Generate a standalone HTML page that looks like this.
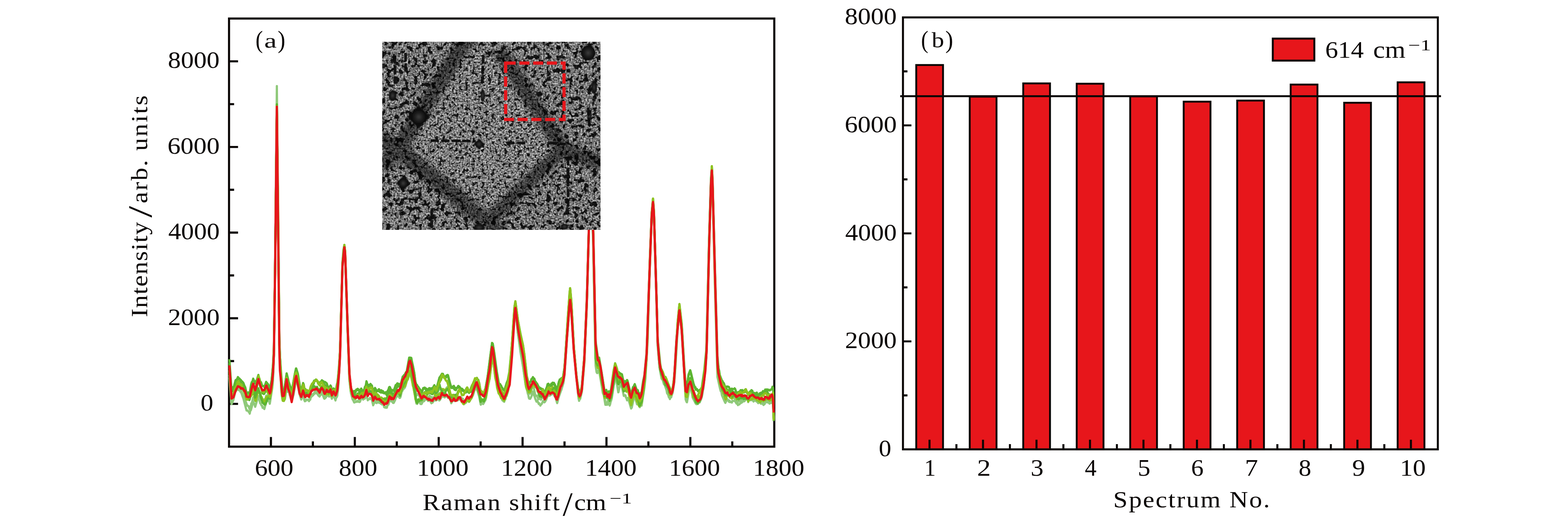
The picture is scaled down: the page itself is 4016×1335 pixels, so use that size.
<!DOCTYPE html>
<html lang="en"><head><meta charset="utf-8"><title>Raman spectra</title>
<style>html,body{margin:0;padding:0;background:#fff;}body{width:4016px;height:1335px;overflow:hidden;}svg{display:block;}text{font-family:"Liberation Serif", "DejaVu Serif", serif;fill:#0a0605;white-space:pre;}</style></head><body>
<svg width="4016" height="1335" viewBox="0 0 4016 1335">
<rect width="4016" height="1335" fill="#fff"/>
<g id="left-plot">
<rect x="586.6" y="47.5" width="1396.5" height="1097" fill="none" stroke="#0a0605" stroke-width="5.4"/>
<path d="M586.6,157.14H609.7M586.6,376.58H609.7M586.6,596.02H609.7M586.6,815.46H609.7M586.6,1034.9H609.7M586.6,266.86H599.6M586.6,486.3H599.6M586.6,705.74H599.6M586.6,925.18H599.6M693.92,1144.5V1119.8M908.76,1144.5V1119.8M1123.6,1144.5V1119.8M1338.44,1144.5V1119.8M1553.28,1144.5V1119.8M1768.12,1144.5V1119.8M801.34,1144.5V1131M1016.18,1144.5V1131M1231.02,1144.5V1131M1445.86,1144.5V1131M1660.7,1144.5V1131M1875.54,1144.5V1131" fill="none" stroke="#0a0605" stroke-width="5.4"/>
<g id="spectra">
<path d="M587.5,967.79 593,1035.58 597.5,1025.94 602.5,1004.29 606,999.54 607.5,994.98 609,993.99 610.5,999.07 611.5,999.89 613,998.24 614.5,999.46 616,1004.43 617.5,1005.1 623.5,1021.87 630,1046.62 631.5,1051.96 634,1051.68 638.5,1057.12 639.6,1060 641,1052.01 642.5,1051.37 648.5,1029.28 649.5,1032.59 651,1033.52 653.6,1042.42 660,1020.62 661.8,1014.9 666.4,1033.33 666.5,1032.67 667,1032.64 670,1039.48 671.5,1039.62 672.5,1045.01 674,1043.23 677,1048.05 680,1037.3 680.5,1037.1 682.5,1028.2 685.5,1027.49 686.5,1026.03 688.5,1025.98 691,1034.65 697.5,993.19 699.2,974.86 701.5,910.95 704.5,679.33 709.1,220.5 715.5,882.9 721.5,1011.46 724,1026.51 724.5,1026.97 727,1027.64 730,1022.11 734.2,989.87 736.5,996.34 737.7,1004.51 739,1002.25 740.5,1005.42 742,1012.5 743,1014.1 747.1,1028.74 751.5,1012.19 751.7,1012.4 755.5,989.76 756.5,978.71 758.7,972.87 764.5,995.15 767,1010.22 768.5,1011.05 771.6,1023.72 776.3,1010.73 778,1015.93 781,1028.22 782,1027.59 783.5,1025.04 784.5,1025.09 785.6,1024.37 786,1024.84 789,1024.23 791.5,1027.97 797.5,1013.94 798.5,1014.07 799,1014.96 802,1012.69 803.5,1009.5 805,1008.5 806.5,1008.74 808,1007.45 809,1007.51 810.5,1006.09 816,1014.05 817.5,1013.66 818.5,1016.14 820,1012.81 821.5,1011.94 824.2,1004.69 830,1020.93 831,1021.77 832.5,1020.52 834,1015.67 835.5,1017.19 837,1012.83 840,1014.55 841.5,1014 843,1016.25 845.5,1013.92 846.5,1008.72 849.9,1021.86 852,1017.16 853.5,1015.6 854.5,1013.11 856.5,1016.21 858,1022.23 859,1023.1 863.5,1015.51 867.5,973.55 871,909 877.1,684.64 882,636.6 884,655 890.5,851.5 895,974.01 899,1008.04 903.2,1023.91 904,1023.9 907,1031.32 907.9,1031.45 908,1030.7 911,1030.08 912.5,1028.45 914,1029.63 915.5,1027.42 918,1029.6 919.5,1029.52 921,1030.08 921.9,1029.46 925.5,1019.71 926,1020.18 927.5,1019.62 930.1,1023.84 933,1021.23 934.5,1021.34 938.3,1009.47 942,1025.77 943.5,1023.36 946.5,1022.77 947.6,1019.6 952,1023.99 952.3,1023.53 955.8,1038.53 960.5,1027.01 961.5,1027.07 963,1032.21 965,1032.95 965.5,1031.43 968.5,1030.15 969.8,1028.57 971,1032.5 972.5,1031.46 974.5,1032.96 975.5,1034.68 976.8,1034.71 978,1036.35 981,1035.89 982.5,1038.36 983.8,1043.27 985,1041.45 986.5,1044.63 988,1042.09 989.5,1044.85 990.8,1044.68 993.5,1035.05 995,1036.8 998,1024.89 999,1025.95 1000.5,1026.4 1002.5,1028.81 1005,1028.19 1006.5,1032.25 1008,1031.08 1008.5,1032.36 1012,1025.13 1014,1018.71 1016.5,1016.13 1018,1013.12 1018.9,1013.92 1019,1014.64 1022,1016.73 1023.5,1019.61 1024.5,1019.48 1026,1016.44 1029,1003.62 1030.5,1001.99 1031.5,998.39 1033,997.88 1034.5,995.35 1036,994.6 1038.5,989.23 1041.5,976.87 1044.6,972.41 1049.5,955.4 1050.4,955.4 1053.5,968 1053.9,968.38 1054,967.71 1060.5,1001.68 1066.5,1034.07 1068.5,1035.06 1069.5,1032.04 1071,1030.67 1071.5,1029.25 1074,1029.73 1077,1035.26 1078.5,1032.36 1079.6,1035.37 1084,1027.38 1085,1023.57 1086.5,1027.88 1088,1024.63 1093.5,1022.95 1096.5,1027.44 1099,1022.72 1100.5,1026.39 1101,1026.27 1105,1033.3 1106.5,1030.48 1107.7,1031.84 1112,1025.57 1112.5,1023.45 1113,1022.99 1114.5,1023.46 1116,1026.28 1117,1026.04 1117.5,1024.71 1119,1024.95 1120.5,1019.63 1121,1019.52 1123.5,1021.63 1125,1026.21 1126.5,1025.19 1132.2,1015.55 1133,1016.61 1134.5,1015.46 1137.5,1017.3 1138,1018.15 1139,1018.41 1143.5,1014.43 1144.5,1016.19 1146,1015.98 1147.5,1019.73 1149,1018.47 1150.5,1018.88 1154.5,1027.64 1155.8,1033.25 1160,1024.86 1161.5,1025.15 1162.5,1020.83 1164,1027.72 1165.5,1025.7 1167.5,1026.51 1168.5,1025.17 1170,1025.48 1171.5,1026.41 1173.5,1023.42 1175.5,1024.21 1177,1022.99 1178,1019.91 1178.5,1019.61 1182.7,1029.58 1184,1029.38 1187,1034.95 1188.6,1035.75 1189.5,1035.13 1191,1031.97 1192.5,1032.43 1193.5,1026.86 1196.7,1023.81 1199,1026.32 1200.5,1029.6 1201.4,1029.95 1204.5,1023.21 1207.2,1021.3 1210,1015.23 1214,999.95 1215.5,999.8 1218,994.72 1219.5,997.26 1221,995.14 1227.5,1017 1231,1035.97 1231.5,1036.97 1233,1032.8 1234.5,1032.13 1237.5,1035.32 1240,1031.35 1241.5,1027.05 1243,1026.22 1244.6,1020.8 1251,982.63 1252.5,978.18 1259,929.23 1260.5,916.68 1262.1,912.11 1268.5,965.8 1275,998.33 1277.3,1007.54 1278,1006.73 1279.5,1011.42 1281,1012.04 1283.5,1020.42 1285,1021.05 1286.5,1025.53 1287.9,1024 1289,1027.86 1291.4,1029.55 1293,1023.76 1294.5,1023.24 1296,1015.01 1297.5,1014.66 1301.5,1001.39 1305.5,964.65 1312,882.89 1317.5,806.01 1320,793 1326.5,854.22 1333,901.65 1339.5,939.19 1346,984.29 1347.5,992.93 1349,995.81 1352,1009.36 1353,1010.96 1354.5,1019.57 1355.5,1021.49 1357,1020.42 1358,1021.86 1361,1016.26 1364,1004.6 1365,1003.3 1367,1011.62 1368.5,1014.25 1371,1021.99 1374,1029.23 1375.5,1026.78 1377,1028.3 1380,1035.46 1381,1033.13 1384,1039.41 1385.5,1036.52 1387,1035.67 1391,1027.4 1391.5,1027.14 1394,1031.07 1395,1030.62 1398,1026.06 1404,1011.68 1404.5,1011.66 1405,1013.7 1406.5,1011.8 1408,1013.75 1411,1011.73 1415,1007.47 1416,1009.93 1417.5,1009.51 1423.5,1020.93 1427,1032.94 1431.5,1016.28 1438,997.65 1442.1,984.58 1445.6,963.74 1452,869.24 1458.5,786.35 1460.2,772.5 1463.2,797.33 1469.5,895.24 1476,963.81 1482,1021.23 1483.2,1025.98 1484.5,1022.9 1486,1022.17 1490.2,1004.2 1496.5,930.63 1503,779.88 1509.5,547.81 1513.5,486 1517.5,564.31 1519.5,631.01 1525.5,937.2 1528,953.71 1529.5,956.11 1531,954.2 1531.1,955 1532,953.8 1533.5,944.81 1540,982.06 1544,1007.17 1545,1009.38 1545.1,1008.72 1546.5,1013.24 1550.5,1037.29 1552,1035.38 1552.1,1035.75 1554.5,1034.14 1555.7,1031.96 1557,1026.11 1558.5,1029.88 1559.2,1027.89 1561.5,1038.07 1562.5,1036.49 1564,1029.02 1565,1027.13 1567,1020.39 1572,986.49 1573,984.14 1575.5,962.73 1576,963.14 1576.5,962.76 1580,983.35 1583.5,1005.31 1584,1005.07 1587.5,988.27 1588.5,986.98 1589.5,989.58 1590.5,990.33 1592,989.57 1593,991.9 1597.7,1014.49 1599,1012.14 1600,1012.75 1600.5,1013.72 1602,1012.91 1603,1018.44 1604.5,1020.55 1606,1025.84 1607.1,1019.56 1608.5,1024.41 1610,1024.72 1616.4,1046.8 1616.5,1046 1618,1044.84 1623.5,1020.12 1625,1017.96 1625.5,1018.14 1626,1020.77 1627.5,1021.37 1631.5,1035.97 1634,1035.68 1638.6,1043.31 1639.5,1040.39 1640.5,1039.36 1642.5,1038.39 1643.3,1039.29 1649.5,999.93 1653,970.99 1658.5,875.07 1665,656.56 1669.5,551.31 1672.5,521.75 1675,556.13 1681.5,775.28 1684.5,885.8 1689,940.26 1694.5,970.26 1697.5,974.15 1700.5,984.76 1701.5,984.82 1701.7,984 1707,999.28 1708.5,1007.46 1711.5,1011.95 1713,1017.74 1714.5,1019.14 1715.7,1022.71 1717,1019.14 1719.2,1017.89 1720,1014.27 1722.7,1006.85 1726.5,981.68 1729,952.11 1735.5,843.83 1740.2,799.1 1746,849.21 1752.5,958.25 1756.2,1023.98 1758.5,1029.98 1759.5,1030.8 1766,994.14 1767,988.72 1768,986.49 1771.5,1006.78 1772.5,1009.34 1774,1018.77 1780.5,1031.59 1781.9,1034.13 1782,1033.79 1783.5,1035.69 1785,1035.51 1787,1033.96 1787.8,1035.07 1790.5,1028.58 1792,1031.02 1796,1022.05 1798.5,1011.99 1800,1001.22 1801.5,996.24 1808,932.19 1810,895.93 1816.5,622.45 1821,473.49 1823.2,440.8 1825,480.1 1831.5,746.12 1837.5,965.9 1843.8,994.25 1846,1002.57 1847.5,1003.81 1849,1012.73 1855.5,1027.92 1857.5,1032.13 1857.9,1032.27 1858.5,1029.81 1860,1028.47 1863,1022.97 1863.5,1023.04 1864,1024.57 1865,1024.78 1867,1029.52 1868.5,1026.31 1870,1030.43 1873,1029.94 1874.5,1031.42 1875.5,1027.13 1877,1027.9 1878.5,1026.96 1880,1027.43 1881.5,1026.83 1883.5,1029.17 1886,1033.72 1887,1034.49 1888.5,1034.02 1890,1038.14 1891.5,1035.47 1893,1036.52 1894,1036 1895.5,1033.45 1897,1032.96 1898,1030.94 1899.5,1031.92 1904,1027.26 1905,1028.35 1906.5,1028.16 1910.5,1023.18 1912.5,1023.02 1913.5,1023.74 1914,1023.5 1915,1024.04 1916.3,1030.53 1917.5,1026.65 1921,1022.82 1923,1025.66 1924.5,1022.16 1925.5,1022.71 1930,1028.88 1931.5,1026.25 1933,1026.68 1934.5,1025.1 1937.3,1028.76 1938.5,1028.54 1942,1033.04 1944.3,1031.19 1945,1029.8 1947,1029.47 1948.5,1034.33 1950,1030.48 1951,1034.46 1954,1034.8 1955.5,1037.76 1957,1034.56 1958.5,1035.28 1960,1030.45 1962.5,1030.74 1964,1027.15 1965.5,1031.03 1967,1030.3 1968,1027.09 1969.5,1032.7 1971,1034.27 1972.5,1032.25 1973.5,1032.84 1975.5,1032.48 1977,1028.54 1978.5,1032.97 1979.8,1034.28 1981.7,1071.2" fill="none" stroke="#8fc97a" stroke-width="5.6" stroke-linejoin="round" stroke-linecap="butt"/>
<path d="M587.5,960.54 593,1033.17 597.5,1022.02 600.5,1007.88 602,1004.43 603,998.94 606,996.41 609.2,990.36 613,992.24 614.5,991.39 616,997.58 617.5,998.37 619,1005.28 620.5,1008.2 626,1020.11 627.5,1026.56 628,1025.09 631.4,1034.41 632.5,1039.41 634,1038.71 635.5,1040.77 637,1040.71 638.5,1046.74 639.6,1048.28 641,1041.99 642.5,1040.19 643.5,1033.74 645,1032.86 648.5,1017.97 649.5,1019.18 653.6,1027.68 660,1005.43 661.8,998.89 666.5,1011.83 667,1012.12 673.5,1024.79 674,1025.33 675.5,1024.3 677,1029.04 678.5,1022.1 680,1025.19 681.6,1014.15 682.5,1014.52 684,1012.98 685.5,1013 686.5,1011.11 688,1014.19 688.5,1013.93 689.5,1014.83 691,1021.83 695.7,1000.9 699.2,961.57 701.5,908.72 704.5,698.1 709.1,272.6 715.5,879.81 720.5,989.16 724,1018.38 725,1020.3 727,1019.11 730.7,1005.33 734.2,972.44 740.5,999.94 742.5,1003.69 747.1,1023.41 753,1000.63 756.4,977.12 756.5,978.64 758.7,972.68 762,985.28 762.2,984.8 768.5,1014.26 771.5,1023.36 772.5,1017.12 774,1014.72 776.3,1007.29 779.5,1025.85 781,1027.8 782,1026.43 783.5,1026.77 785,1023.89 785.5,1023.73 786,1024.63 790.5,1025.54 791.4,1024.99 793,1021.44 794.5,1024.31 796,1017.47 797.5,1016.96 799,1011.84 800.5,1011.21 802,1009.23 803.5,1010.3 807.8,999.93 813.5,1007.9 814.5,1005.06 816,1008.26 817.5,1008.22 818.5,1010.33 820,1007.98 821.5,1001.67 823,1002.35 824.5,999.4 825.5,1000.16 828.5,1012.23 831.5,1018.51 833,1019.46 834,1019.18 835.5,1015.43 837,1008.29 839,1008.38 842.9,1009.79 844,1006.48 845.5,1006.47 846.5,1004.63 850,1020.84 853,1013.06 854.5,1010.97 859.2,1026.23 860.5,1019.65 862,1017.41 863.5,1012.63 864,1012.67 866.5,989.06 871,910.27 877.1,683.72 882,636.39 884,655 890.5,850.3 895,972.59 898.6,1006.14 900,1010.26 901,1011.39 903.2,1020.99 904,1020.77 905.5,1024.34 907.9,1022.57 908,1021.74 909.5,1023.84 912.5,1018.84 914,1019 916.1,1017.83 918,1018.83 919.5,1023.58 920.5,1024.24 921,1024.16 922,1026.02 925.5,1014.83 926,1015.35 927.5,1013.09 929,1013.15 930,1010.64 930.1,1009.07 931.5,1008.03 933,1008.64 934.5,1007.34 935.5,1002.09 937,1000.56 938.3,996.65 939.5,1002.41 941.8,1007.06 942,1006.66 943.5,1007.83 945.5,1004.57 947.6,1004.57 949,1008.03 950.5,1006.51 952.3,1010.79 956,1030.64 957,1029.73 960,1023.07 960.5,1022.9 961.5,1025.28 963,1022.88 965,1024.39 965.5,1025.62 967,1021.64 968.5,1020.66 969.8,1023.36 971,1022.15 974.5,1023.23 977,1027.51 978,1027.77 981.5,1032.87 982.5,1035.85 989,1026.54 989.5,1025.66 990.8,1025.58 992,1020.04 993.5,1019.05 996.5,1014.63 997.9,1010.41 999,1013.21 1002,1014.84 1003.5,1018.12 1005,1018.93 1008,1025.66 1008.4,1025.8 1012,1014.85 1013,1013.57 1015,1013.42 1016.5,1014.93 1018,1013.42 1018.9,1014.04 1019,1014.67 1020.5,1013.22 1022,1017.1 1023.5,1015.58 1024.7,1018.19 1029,1000.13 1031,987.8 1033,985.42 1033.5,985.44 1037,980.95 1037.6,980.83 1038.5,978.43 1040,978.53 1041.5,976.15 1045.5,961.33 1048.1,945.99 1049.5,945.73 1050.5,942.01 1052,946.36 1054,949.93 1056,960.56 1057.5,962.15 1061.5,982.51 1063.5,997.94 1067,1013.55 1068.5,1010.05 1069.5,1009.58 1071,1011.01 1071.5,1010.51 1074,1014.46 1077,1023.34 1078.5,1023.72 1079.6,1028.09 1081,1023.63 1082.5,1025.69 1084,1020.91 1086.5,1024.19 1089.5,1022.38 1091,1019.59 1092,1023.32 1093.5,1018.92 1095,1019.86 1096.5,1017.19 1098,1016.46 1099,1017.05 1100.5,1013.47 1105,1021.09 1106.5,1017.48 1107.7,1023.29 1109,1019.18 1110.5,1018.37 1112,1017.96 1112.5,1015.39 1113,1014.8 1116,1019.02 1117,1017.56 1119.5,1012.44 1120.5,1008.76 1125,994.17 1126.4,996.12 1126.5,997.18 1127.5,997.8 1129,995.16 1132,998.91 1132.2,998.31 1134,998.91 1134.5,998.64 1136,1001.42 1137.5,999.56 1138,999.7 1139,998.58 1140.5,999.9 1141.5,999.33 1144,993.24 1144.5,993.3 1146,991.48 1150,998.83 1153,1012.33 1154.5,1015.22 1156,1021.48 1158.5,1019.69 1160,1021.37 1161.5,1021.32 1165.5,1026.05 1167,1026.23 1167.5,1026.85 1174,1020.7 1177,1018.69 1178,1016.7 1181.5,1018.74 1182.7,1021.79 1185.5,1021.58 1187,1026.58 1188.5,1027.4 1189,1029.24 1191,1031.5 1191.5,1031.4 1192.5,1029.67 1193.5,1031.6 1196.7,1021.84 1197.5,1022.47 1199.5,1028.56 1200.5,1029.23 1201.4,1027.97 1203,1023.86 1208.5,1018.39 1210,1012.77 1211.5,1012.92 1216.6,996.11 1218,996.48 1219.5,994.71 1224.5,1002.96 1225,1003.2 1231,1029.25 1231.5,1029.88 1233,1026.79 1234.5,1028.72 1237,1026.41 1238.5,1023.17 1240,1022.68 1244.6,1005.77 1249.5,970.43 1251,966.48 1257.5,920.32 1260.5,901.72 1262.1,899.41 1268.5,951.57 1275,993.57 1277.5,1002.53 1278,1003.02 1279.5,1010.98 1281,1012.05 1282.5,1010.79 1283.5,1017.58 1287.9,1023.88 1288,1023.14 1289,1022.63 1291.5,1026.48 1297.5,1011.39 1302,995.68 1308.5,923.72 1315,835.24 1317.5,803.78 1320,792.37 1326.5,854.22 1333,897.04 1339.5,937.98 1346,984.13 1348.5,996.2 1350.9,1001.87 1351,1001.04 1352,1001.52 1353.5,1004.3 1354.5,1007.98 1355.5,1008.68 1357,1006.71 1358,1008.33 1359.5,1005.71 1361.5,996.36 1362.5,994.58 1364,988.62 1365,988.35 1365.5,990.31 1367,992.79 1371,1012.8 1372.5,1014.59 1375,1013.55 1375.5,1013.8 1378.5,1022.89 1380,1022.78 1381,1018.83 1383.5,1021.52 1384,1021.46 1385.5,1024.31 1388.5,1018.63 1390.7,1017.29 1395,1024.37 1395.3,1025.63 1396.5,1022.68 1398,1022.32 1401.5,1012.36 1402.5,1011.66 1405,1003.04 1406.5,1002.83 1408,1005.75 1410.5,999.68 1411,999.4 1412,1000.58 1415,996.09 1416,997.87 1417.5,996.4 1420.5,1001.69 1425,1018.38 1426.9,1020.41 1432,1000.08 1435,999.84 1436,1000.29 1436.2,1001.33 1437.5,999.65 1442,983.16 1442.1,984.33 1443,981.85 1445.6,961.64 1452,868.1 1458.5,783.75 1460.2,767.79 1463.2,791.81 1469.5,892.35 1476,960.25 1481,1014.35 1483.2,1027.22 1487.5,1012.16 1490.2,1001.86 1496.5,925.68 1503,779.88 1509.5,547.81 1513.5,484.2 1515.5,509.51 1519.5,615.17 1525.5,908.48 1529.5,934.64 1531.1,937.68 1533.5,934.83 1540,977.11 1544,1000.37 1545,1002.66 1548.6,1022.08 1549,1021.93 1550.5,1028.99 1552,1031.72 1553,1037.35 1554.5,1036.48 1555.7,1036.94 1557,1026.2 1559,1026.94 1561.5,1039.19 1568,1011.61 1572.5,978.27 1575.5,959.47 1576,959.71 1576.5,958.98 1580,971.24 1582.5,983.49 1583,983.71 1584,982.91 1586.5,975.85 1587,975.95 1587.5,977.08 1589,971.78 1592,975.74 1593,975.19 1594,977.53 1598,991.79 1600.5,992.5 1602.5,991.61 1604.5,995.74 1607,994.14 1608.5,998.15 1612.5,1016.76 1616.5,1042.93 1621.5,1021.24 1625,1010.31 1625.5,1010.11 1630.4,1022.85 1631.5,1026.85 1633,1028.28 1634,1026.26 1638.5,1039.71 1638.6,1041 1639.5,1041.07 1641,1038.83 1642.5,1034.36 1643.3,1034.82 1649.5,990.49 1654,947.73 1658.5,867.24 1665,652.17 1669.5,550.22 1672.5,521.75 1675,555.91 1681.5,772.13 1684.5,883.84 1689,940.26 1693,962.17 1696,969.98 1697.5,970.22 1699,974.75 1700.5,976.03 1702,984.06 1704.5,988.65 1705.5,989.12 1706.4,992.12 1708.5,1004.2 1710,1004.86 1715.7,1018.13 1718.5,1013.58 1719.2,1014.04 1721,1007.42 1722.5,1005.85 1726.5,981.02 1729,950.5 1735.5,843.21 1740.2,796.6 1746,844.86 1752.5,950.81 1756.2,1017.5 1759.7,1026.34 1766,986.89 1767.5,977.24 1767.9,977.22 1774,1006.92 1778,1020 1779.5,1019.15 1781,1022.45 1781.9,1022.82 1782,1022.07 1783.5,1022.98 1785,1020.49 1786.5,1022.71 1787,1022.91 1790.5,1017.68 1792,1023.17 1798.3,999.86 1800,985.81 1801.5,980.64 1808,923.48 1810,888.45 1816.5,614.04 1821,467.16 1823.2,435.56 1825,473.2 1831.5,723.64 1837.5,936.28 1839.6,952.3 1840.5,954.18 1847,984.71 1848.5,988.39 1850.5,989.89 1852,994.65 1853,993.62 1853.5,992.48 1854.5,994.08 1857.5,1005.15 1857.9,1005.41 1860,1002.34 1865,1005.57 1868.5,1017.64 1869.5,1018.08 1870,1017.6 1873,1019.16 1874.5,1021.35 1875.5,1020.01 1877,1019.94 1878.5,1016.51 1880,1017.36 1881.5,1021.48 1883,1022.8 1884.5,1027.57 1885.9,1025.82 1887,1029.82 1888.5,1029.08 1890,1029.91 1891.5,1027.85 1892.5,1028.46 1895.5,1026.23 1897,1027.58 1898,1026.16 1899.5,1026.1 1904,1020.28 1905,1021.55 1906.5,1019.84 1909.5,1012.95 1910.4,1013.72 1915,1020.51 1916.5,1025.53 1917.5,1025.38 1919,1021.21 1920.5,1020.98 1923,1018.01 1925.5,1019.43 1927,1022.39 1928.5,1021.21 1932,1023.71 1934.5,1022.47 1936,1026.02 1937.3,1026.22 1938.5,1028.77 1940,1029.78 1943,1028.98 1945,1029.34 1950,1024.79 1951.5,1028.5 1955,1032.61 1956.5,1035.88 1957,1036.13 1961.5,1029.04 1962,1027.32 1965,1024.38 1967.5,1019.75 1968,1017.11 1969.5,1019.81 1971,1019.25 1973.5,1022.59 1974,1022.66 1975.5,1026.8 1978.5,1021.61 1979.8,1015.5 1980.5,1027.13 1981.7,1074.49" fill="none" stroke="#8fc97a" stroke-width="5.6" stroke-linejoin="round" stroke-linecap="butt"/>
<path d="M587.5,941.68 593,1015.91 594.5,1017.2 597.5,1010.71 602,990.53 602.5,991.47 603,991.63 609,974.82 610,978.32 611.5,976.78 614,977.88 617.5,984.79 619,985 621,987.96 622,991.19 623,990.1 623.2,989.07 624.5,993.6 626,993.4 627.5,995.09 628,994.67 631.5,1010.92 632.5,1010.65 634,1013.05 635.5,1009.4 637,1010.52 639.5,1017.41 639.6,1018.74 642,1010.56 643,1008.54 643.1,1008.89 643.5,1008.57 645,1009.45 648,1000.82 648.5,1000.33 654,1026.31 655,1027.25 656.5,1019.47 657,1018.76 657.1,1019.14 661.8,995.51 664.5,1005.4 666,1005.64 668.5,1015.45 670,1017.06 674,1027.49 675.5,1027.63 677,1030.71 679,1025.83 680,1025.33 681.6,1018.19 684,1016.69 685.5,1018.57 686.5,1015.33 688.5,1015.3 691,1018.74 692.5,1012.79 696.5,987.68 700.5,929.02 701.5,905.3 704.5,695.92 709.1,274.25 715.5,889.93 720.5,1000.3 724,1025.64 724.5,1026.91 725,1026.46 727,1027.05 728.5,1023.55 731,1005.82 734.2,972.77 738,988.25 742.4,999.62 743,1003.25 747.1,1010.68 750,1002.61 756.4,961.4 758,959.47 758.7,957.56 760.5,963.45 762,965.24 764.5,975.61 769.5,1003.25 771.5,1007.41 771.6,1008.37 776.3,992.48 781,1011.57 783.5,1011.66 785,1010.57 787.5,1015.38 789,1015.94 790.5,1012.51 791,1012.65 791.5,1014.02 793,1009.95 794,1009.89 796,1006.35 798.5,995.81 800.5,995.47 802,992.11 803.5,992.24 804.5,993.43 806.5,993.07 807.8,991.71 810.5,996.37 812,994.12 813.5,996.87 814,995.55 814.5,995.53 817.5,1002.47 818.3,1001.97 823,989.23 824,989.29 824.2,989.74 824.5,989.32 825.5,989.31 830,1006.86 831.5,1009.19 832.5,1009.9 833.5,1008.61 834,1008.59 835.5,1010.6 837,1006.67 839,1008.09 840,1007.71 841.5,1010.74 842.9,1008.86 843,1009.18 844,1008.3 846.5,1000.76 849.9,1015.28 850.5,1013.04 852,1011.27 853.5,1003.68 854.5,1002.46 855,1004.09 856.5,1004.09 859,1006.51 864,989.63 868.5,947.95 871,901.58 877.1,679.95 882,633.95 884,652.56 890.5,847.89 895,969.34 901.5,1011.05 903,1011.87 904,1014.88 905.5,1012.74 907,1015.17 907.9,1015.61 909.5,1013.06 912.5,1012.88 914,1014.44 915.5,1010.16 916.5,1011.6 917,1011.24 918,1011.97 919.5,1016.78 921,1013.98 922,1014.99 923.5,1010.16 925,1008.91 925.5,1008.22 926,1008.7 927.5,1007.49 929,1013.59 930,1012.96 931.5,1008.96 933,1001.15 934.5,1005.38 938.3,993.74 939.5,1000.45 941,1000.5 942,1004.24 943.5,1001.38 945.5,1000.51 946.5,999.21 947.6,992.19 948.5,990.97 950.5,990.65 952,994.21 952.3,993.67 955.8,1010.8 957,1004.15 960.5,1003.2 963,1006.85 964.5,1011.26 965.1,1011.79 967,1010.53 968.5,1013.18 969.8,1013.33 972.5,1018.45 974.5,1019.07 975.5,1020.41 976.8,1018.52 978,1019.36 979.5,1022.97 981.5,1022.33 983.8,1022.92 985,1020.52 986.5,1020.62 988,1022.23 990.8,1020.3 993.5,1024.07 995,1021.19 997.9,1018.77 999,1019.84 1002,1017.66 1003.5,1020.32 1008,1014.81 1008.5,1016.8 1009,1016.42 1010.5,1009.68 1012,1011.3 1013,1010.81 1013.5,1011.31 1018,1006.77 1018.9,1007.37 1019,1007.96 1020.5,1006.84 1022,1007.76 1023.5,1005.8 1024.7,1006.02 1026,1009.2 1027.5,1001.02 1029,999.19 1031.5,992.67 1034.5,990.26 1036,990.81 1040,982.1 1043,972.28 1044.6,970.39 1048.5,951.83 1049.5,950.06 1050.4,950.56 1056.5,982.42 1057.5,988.86 1058.5,990.9 1058.6,990.14 1063,1014.37 1064,1022.71 1065.5,1025.83 1067,1030.87 1069,1029.27 1069.1,1029.6 1069.5,1029.34 1071.5,1023.07 1072.5,1023.74 1074,1023.19 1075.5,1025.6 1077,1026.26 1078.5,1024.68 1080,1025.37 1081,1025.07 1084.3,1012.41 1085,1013.52 1086.5,1012.61 1089.5,1017.34 1091.5,1015.3 1092,1015.44 1095,1009.25 1096.5,1008.59 1098.5,1006.44 1102,1005.42 1106.5,1008.12 1107.7,1006.14 1110.5,1007.43 1112,1005.37 1113,1009.82 1117,1016.21 1117.5,1015.81 1119,1017.07 1120.5,1012.02 1122,1010.57 1123.5,1011.66 1125,1011.31 1126.5,1007.78 1129,1006.24 1132.5,998.42 1133,998.51 1134.5,996.65 1136,999.45 1137.5,998.58 1138,999.34 1139,999.44 1140.5,1001.29 1143.5,996.5 1144.5,999.29 1147.5,999.58 1150,1004.71 1151.5,1011.08 1153,1013.36 1156,1022.46 1160.5,1020.18 1162.5,1016.84 1164,1019.6 1167,1019.99 1167.5,1020.74 1168.5,1020.25 1170.5,1022.45 1171.5,1021.91 1173.5,1017.02 1174,1016.57 1175.5,1018.13 1177,1017.96 1178,1018.65 1182.7,1030.17 1183.5,1030.21 1187,1035.57 1188.5,1032.99 1188.6,1033.32 1189.5,1032.72 1191,1028.91 1192.5,1031.47 1193.5,1027.87 1195,1028.3 1196.5,1022.33 1197.5,1026.13 1199.5,1025.68 1201.5,1028.86 1202.5,1028.47 1208.5,1017.53 1215,995.36 1216.6,987.52 1221.3,991.09 1223.5,996.67 1225,1004.27 1226,1005.32 1230.5,1017.66 1231.5,1021.44 1233,1021.84 1238.5,1027.57 1240,1026.26 1243,1021.46 1244.5,1017.53 1244.6,1018.52 1251,983.2 1252.5,974.68 1254,971.16 1260.3,917.76 1262.1,912.55 1268.5,967.86 1271.5,980.57 1273,993.25 1277.3,1008.46 1278,1008.21 1279.5,1010.17 1283.5,1019.95 1285.5,1020.23 1287.9,1022.56 1291.4,1026.21 1297.5,1010.98 1301.5,998.72 1305.5,963.04 1312,877.19 1317.5,795.83 1320,779.14 1322.5,793.01 1329,852.53 1335.5,895.83 1340.4,922.26 1346.5,982.78 1347.5,990.72 1351.5,1000.28 1353,1000.62 1354.4,1005.7 1355.5,1003.52 1357,1003.43 1358,1004.12 1361.5,992.11 1362.5,991.61 1365,983.57 1365.5,984.08 1367,984.03 1371,991.13 1372.5,987.76 1374,994.14 1375.5,995.32 1377,1002.88 1378.5,1004.01 1381,1011.18 1382.5,1012.34 1384,1010.22 1385,1010.34 1385.5,1011.08 1386,1011.11 1387,1009.97 1388.5,1009.8 1390.7,1005.72 1395.5,1013.98 1402,1001.2 1404,996.31 1404.5,996.66 1405,999.66 1406.5,998.22 1408,1000.88 1409.3,1001.24 1410.5,997.04 1412,997.12 1415,991.15 1416,993.31 1417.5,993.85 1420.5,998.62 1422,1000.63 1423.5,1008.84 1424.5,1010.62 1425,1010.81 1426.5,1016.71 1426.9,1017.02 1427.5,1013.27 1429,1012.14 1431.5,1003.45 1432,1003.48 1435,991.47 1437.5,987.17 1441,973.75 1442,972.24 1445.6,954.96 1452,864.96 1458.5,781.08 1460.2,766.08 1463.2,790.32 1469.5,892.21 1476,962.92 1482.5,1015.13 1483.5,1018.85 1484.5,1019.21 1486,1012.17 1486.5,1012.13 1486.7,1012.59 1490.2,1000.43 1496.5,928.5 1503,779.88 1509.5,544.84 1513.5,481.35 1515.5,505.52 1519.5,612.06 1525.5,917.84 1527.6,933.16 1531.1,942.86 1533.5,935.36 1534.6,937.93 1541,977.66 1542.5,987.13 1543.5,988.86 1548.6,1019.32 1549.5,1018.45 1550.5,1019.25 1555.7,1017.79 1557,1013.34 1559.2,1011.09 1561,1015.34 1561.5,1018.46 1562.5,1017.28 1565,1010.05 1571.5,964.4 1575.5,946.31 1576,948.12 1576.5,948.15 1577.5,950.22 1583.5,978.86 1585,975.31 1586.5,976.02 1588.5,971.7 1593,979.45 1597.7,1000.04 1599,996.28 1600.5,1000.32 1602.4,999.03 1602.5,998.58 1604.5,1003.79 1606,998.66 1607,998.57 1610,1007.12 1616.4,1038.26 1621,1016.6 1621.5,1018.61 1622,1018.84 1623.5,1009.72 1625.7,1005.87 1631.5,1028.89 1633,1029.3 1634,1030.86 1637,1040.97 1638.5,1038.76 1638.6,1039.87 1639.5,1039.34 1643.3,1031.58 1649.5,983.65 1654,944.26 1658.5,865.3 1665,648.31 1669.5,542.54 1672.5,512.92 1675,546.06 1681.5,762.28 1684.5,873.01 1691,944.14 1696,964.79 1701.7,976.97 1703,977.26 1704.5,980.67 1706,979.58 1712.5,999.7 1715.7,1011.99 1717,1009.3 1719.2,1011.72 1722.7,1001.17 1726.2,981.1 1732.5,874.24 1739,801.76 1740.2,791.92 1746,843.18 1752.5,953.77 1756.2,1015.6 1756.5,1015.14 1758,1017.19 1759.7,1017.15 1764.5,984.54 1768,972.37 1774.5,1009.06 1775.5,1016.39 1776,1017.26 1776.1,1016.88 1778,1020.23 1780.5,1018.63 1781,1018.84 1782,1021.21 1783.5,1021.26 1785,1017.28 1786.5,1021.01 1787.8,1018.55 1788,1018.86 1789,1018.59 1792,1015.22 1793.6,1015.39 1797.5,1006.55 1804,964.74 1809,913.16 1810,891.1 1816.5,622.18 1821,472.01 1823.2,438.61 1825,475.98 1831.5,732.22 1837.5,942.68 1839.6,958.55 1840.5,958.99 1844.5,983.9 1847.5,990.9 1850.5,1001.9 1852,1003.55 1853.2,1008.76 1853.5,1008.5 1854.5,1009.13 1856,1016.89 1857.5,1020.24 1858,1023.01 1858.5,1023.47 1860,1021.79 1861.5,1014.96 1865,1012.3 1867,1012.15 1869.5,1018.49 1870,1018.95 1871.5,1018.4 1874.5,1021.22 1878.5,1013.68 1880,1013.32 1881.5,1015.03 1883,1014.27 1885.9,1018.04 1887,1023.35 1890,1019.5 1892,1021.75 1894,1022.37 1895.5,1018.54 1897,1019.1 1898,1017.52 1899.5,1019.18 1902.5,1015.65 1904,1016.03 1905,1018.25 1906.5,1016.47 1908,1017.29 1909.5,1014.27 1910.4,1016.87 1910.5,1018.36 1912,1016.2 1916,1026.47 1916.3,1028.42 1921,1022.78 1923,1022.86 1924.5,1021.8 1925.6,1022.99 1927,1022.48 1928.5,1020.47 1931.5,1021.8 1933,1019.46 1934.5,1019.79 1936,1022.22 1937.3,1022.71 1938.5,1025.19 1940,1025.6 1941.5,1024.85 1943,1028.11 1944.3,1027.46 1945.5,1028.26 1947,1030.86 1950,1023.81 1951,1026.71 1952.5,1024.99 1954,1025.27 1955.5,1027.83 1958.5,1020.83 1960,1025.51 1962.5,1021.33 1964,1022.52 1967,1021.45 1968,1023.95 1969.5,1022.86 1971,1026.33 1971.5,1026.59 1972.5,1025.15 1973.5,1025.09 1975,1022.48 1977,1020.16 1979.8,1030.13 1981.7,1074.85" fill="none" stroke="#8fc31f" stroke-width="5.6" stroke-linejoin="round" stroke-linecap="butt"/>
<path d="M587.5,948.76 593,1020.59 594.5,1016.96 596,1018.1 602,993.32 602.5,993.98 603,993.99 604.5,991.31 606,985.36 607.5,985.89 609,984 610,985.93 611.5,986.03 613,987.42 616,992.19 617.5,990.53 619,994.38 623,997.96 623.2,997.55 626.5,1006.04 628,1007.23 628.5,1009.18 630,1010.67 631.5,1018.17 632.5,1017.18 634,1018.92 634.5,1018.32 635.5,1018.54 637,1022.21 638.5,1019.79 639.5,1021.28 639.6,1022.08 641,1013.46 642.5,1015.25 643.5,1009.58 648,1002.42 648.5,999.81 649.5,1001.25 651,1008.65 652.5,1011.21 653.6,1018.76 660,998.68 661.8,994.86 668,1018.27 672.5,1031.98 675.5,1034.23 677,1036.51 678.5,1036.88 680,1033.38 680.5,1034.14 685.5,1021.47 686.3,1021.02 686.5,1021.3 688,1020.82 688.5,1019.65 689.5,1019.63 691,1021.75 692.5,1007.93 695.5,993.71 699.5,940.8 701.5,897.09 704.5,689.01 709.1,268.72 715.5,876.75 717,925.08 722,1002.82 723.7,1014.3 724.5,1014.45 725,1015.07 727.2,1012.71 730.7,995.76 734.2,967.82 735,974.64 741.5,999.25 744.5,1006.33 746,1015.69 747,1017.34 751.5,997.51 751.7,998.26 756.4,977.31 756.5,978.86 758.7,974.17 759,975.51 760.5,976.24 766,995.59 770,1012.85 771.6,1015.97 776.3,999.49 780.9,1009.07 782,1007.36 784.5,1007.04 785,1006.26 787.5,1007.39 789,1011.41 790.5,1010.73 791.5,1012.06 798,993.12 800.5,988.82 803.5,991.03 804.5,989.53 805,989.35 807.5,991.76 808,992.72 809,993.08 812,990.94 814.5,998.65 816,998.45 818.5,1003.25 821.5,994.56 823,997.49 824.2,991.48 825.5,996.89 827,995.37 830,998.2 831.2,1000.1 832.5,995.88 834,995.92 835.5,994.85 837,995.06 839.5,1000.63 840,1000.73 842.9,1007.22 846.5,996.06 849.5,1009.62 849.9,1010.07 850.5,1006.44 852,1005.23 853.5,1001.87 854.5,997.14 855,997.03 856.5,1001.46 858,1000.95 859.2,1006.11 860.5,998.1 862,996.57 864,987.77 868.5,945.99 871,901.4 877.1,679.88 882,633.28 884,651.56 890.5,845.88 895,966.99 899,995.31 903.5,1010.02 907,1014.52 908,1017.47 910.5,1013.3 911,1013.06 912.5,1016.63 914,1014.56 915.5,1008.65 916,1008.78 916.5,1010.11 918,1007.97 921.9,1010.19 925,1002.57 925.4,1002.48 929,1010.4 930,1007.9 930.1,1006.2 931.5,1010.53 934.5,1001.94 935,1001.84 937,999.36 938.3,994.73 939.5,998.69 941,999.7 942,1005.59 947.6,1001.8 952.3,1003.47 955.8,1017.35 957,1013.11 958.5,1012.58 960,1009.69 960.5,1009.54 965.1,1017.85 968,1016.18 969.8,1018.54 972.5,1026.32 974,1026.63 975.5,1029.78 977,1027.43 981,1022.29 982.5,1022.66 984,1025.17 989.5,1022.74 992,1017.42 997.9,999.54 998,998.32 999,997 1002.5,1005.15 1003.5,1005.71 1006.5,1011.48 1007.5,1010.66 1008,1010.72 1008.5,1012.83 1012,1007.59 1013.5,1003.45 1015,1002.04 1016.5,1002.29 1018,1000.35 1018.9,1001.4 1023,1009.97 1023.5,1010.28 1024.7,1014.15 1026,1005.38 1027.5,1002.55 1030.6,990.35 1031.5,990.84 1034.5,982.04 1036,981.91 1037.5,979 1041.5,960.92 1043,957.43 1048.1,931.8 1050.4,932.49 1054.5,947.97 1061,989.97 1066.5,1029.33 1068.5,1032.59 1071,1024.55 1071.5,1024.07 1074,1027.44 1078.5,1023.31 1079.6,1025.41 1081,1021.4 1081.5,1021.23 1082.5,1019.1 1084.5,1009.92 1088,1004.6 1089.5,1008.11 1091,1007.79 1092,1008.42 1093.5,1006.6 1095,1009.27 1096.5,1005.49 1098,1006.08 1099,999.74 1102,1005.18 1103.5,1003.95 1105,1006.8 1106.5,1006.21 1107.7,1009.82 1110.5,1003.08 1112,1003.52 1112.5,1001.14 1113,1000.79 1114.5,1001.96 1116,1007.39 1117,1007.32 1119,1004.22 1119.5,1003.99 1121,1000.85 1124.5,984.81 1125,984.37 1126.4,987.01 1126.5,989.5 1130.5,1000.02 1132,1000.72 1133,1008.2 1136,1006.89 1138,1011.47 1139,1011.77 1142,1001.23 1147.5,995.19 1149,997.82 1150,995.13 1153,1011.32 1156,1017.8 1157,1017.89 1161.7,1011.84 1164,1012.18 1165.5,1014.45 1167,1011.55 1167.5,1012.45 1170,1012.28 1173.5,1002.13 1175.5,1002.95 1177,999.09 1178,999.21 1178.5,1000.03 1180,996.14 1181.5,996.8 1182.7,999.69 1184,996.28 1185.5,1000.74 1187,1000.02 1188.6,1004 1190,1003.86 1191,1002.64 1192.5,1004.51 1193.5,1001.17 1195,1000.63 1197,994.1 1197.5,994.13 1199,999.24 1203,1003.92 1204.5,1003.73 1206,1001.18 1207,1001.12 1207.5,1001.29 1212.5,993.34 1214,986.56 1215.5,987.61 1216.6,982.99 1218,982.96 1219.5,984.97 1221.5,984.15 1228,1012.17 1230.6,1028.68 1231,1029.52 1231.5,1029.67 1233,1024.11 1237,1024.1 1238.5,1028.62 1240,1028.04 1244.6,1008.55 1251,955.76 1254,938.71 1260.3,888.83 1260.5,889.71 1262,891.07 1268.5,941.3 1275,985.23 1277.3,995.28 1278,994.53 1279.5,998.83 1282.5,1000.31 1283.5,1003.73 1285,1005.35 1286.5,1004.8 1288.5,1009.26 1291.4,1010.44 1293,1005.82 1294.5,1004.96 1300.7,984.48 1302,980.57 1305.5,953.45 1312,873.13 1317.5,794.88 1320,782.34 1326.5,840.83 1333,881.9 1339.5,914.96 1340.4,917.23 1340.5,916.67 1347,958.41 1353.5,991.37 1355.5,999.88 1358,996.32 1359.5,989.56 1362.5,985.64 1365,977.96 1365.5,977.86 1367,975.33 1371,987.23 1372.5,987.03 1379,1005.74 1381,1012.58 1382.5,1015.82 1384,1016.03 1385.5,1014.82 1387,1017.31 1388.5,1012.22 1390,1012.32 1390.7,1011.72 1392.5,1015.51 1394,1014.09 1395.5,1016.68 1396.5,1015.94 1401,1007.28 1402.5,1001.83 1404,1000.88 1404.7,998.07 1410.5,1004.46 1412,1001.84 1413.5,1002.69 1415,1000.4 1418.5,994.48 1420.5,994.56 1422,994.02 1426.9,1001.76 1430.5,981.65 1431.5,980.43 1432,980.86 1434.5,975.53 1437.5,969.45 1439,971.27 1440.5,968.08 1442,967.86 1445.6,946.21 1452,854.41 1458.5,771.79 1460.2,757.54 1463.5,791 1470,896.33 1476.5,967.18 1481,1002.72 1483.2,1009.98 1484.5,1006.18 1486,1007.47 1490.2,995.63 1496.5,922.45 1503,773.69 1509.5,543.65 1513.5,482.62 1515.5,509.2 1519.5,621.33 1525.5,919.88 1527.6,930.1 1528,929.85 1531.1,936.15 1533.5,929.91 1534.6,932.27 1541,971.19 1542.5,982.54 1544,986.49 1546.5,999.31 1548.6,1015.05 1552,1012.15 1555.7,1020.8 1557,1015.32 1559,1015.01 1561.5,1027.21 1564,1020.12 1565,1019.34 1568.5,1001.3 1572,977.69 1573,974.43 1575.5,953.1 1576,952.47 1577,955.15 1582.5,982.86 1584,984.66 1585,983.62 1588.5,974.91 1593,984.43 1597.7,1002.89 1599,999.16 1600.5,1000.93 1602.4,997.65 1603,996.18 1604.5,996.49 1607.1,987.68 1613.5,1009.05 1615.5,1014.41 1616.5,1019.23 1618.5,1013.47 1622,1000.82 1625,1000.73 1625.7,998.93 1627.5,1005.84 1629,1008.87 1630.5,1016.4 1631.5,1017.24 1635.5,1026.65 1638.6,1039.74 1640.5,1035.19 1641,1033.05 1643.3,1029.4 1649.5,993.4 1656,919.52 1662.5,734.79 1669,558.71 1672.5,518.7 1675,551.97 1681.5,767.97 1684.5,878.65 1690.5,945.28 1694.5,960.15 1696,961.54 1702.5,972.56 1703,973.57 1704.5,971.62 1706.4,978.11 1707,982.25 1708.5,982.85 1711.5,996.6 1713,998.82 1714.5,1005.97 1715.5,1005.51 1715.7,1004.73 1717,1007.24 1719.2,1007.69 1722.5,998.59 1726.2,976.95 1732.5,869.47 1739,794.42 1740.2,784.42 1746,836.44 1752.5,948.23 1756.2,1001.82 1756.5,1000.71 1758,1001.84 1759.7,998.24 1763.5,975.39 1764.5,973.4 1766,973.06 1767,971.37 1767.5,971.31 1768,968.79 1774.5,999.74 1775.5,1002.14 1776.5,1009.73 1778,1013.47 1782,1029.77 1783.5,1031.96 1785,1031.35 1786.5,1033.78 1789,1029.39 1790.5,1030.56 1797,1016.42 1803,978.72 1809,912.77 1810,888.4 1816.5,611.12 1821,464.45 1823.2,433.05 1825,469.56 1831.5,719.8 1837.5,929.35 1840.5,958.92 1847,986.81 1850.5,998.9 1852,999.4 1854.5,1002.52 1858,1013.14 1864.5,1010.1 1865,1009.76 1868.5,1013.91 1869.5,1013.92 1870,1013.23 1873,1014.04 1874,1014.73 1875.4,1015.65 1875.5,1016.47 1878.5,1011.06 1883,1015.64 1884.5,1014.11 1885.9,1017.12 1886.5,1014.43 1887,1013.96 1890,1022.54 1891.5,1023.54 1894,1020.62 1895.5,1020.96 1897,1016.01 1897.5,1016.58 1899.5,1020.96 1901,1020.22 1902.5,1017.21 1904.5,1020.59 1905,1022.65 1906.5,1018.93 1909.5,1022 1910.5,1018.43 1912,1022.01 1913.5,1019.88 1915,1020.55 1916.3,1023.14 1919,1018.77 1920.5,1014.48 1921.5,1016.41 1923,1012.02 1924.5,1011.91 1925.6,1010.58 1930,1014.61 1931.5,1012.55 1933,1013.38 1934.5,1009.74 1936,1010.82 1937.3,1014.56 1938.5,1013.32 1940,1013.74 1945,1019.17 1949,1017.85 1950,1016.87 1951,1018.82 1954,1022.23 1955.5,1024.98 1956,1024.97 1957,1023.38 1958.5,1023.59 1961.5,1018.53 1962.5,1020.1 1964,1019.28 1965.5,1020.71 1967,1017.95 1968,1019.39 1972.5,1015.98 1974,1018.38 1975.5,1016.87 1977,1016.9 1979.8,1021.75 1981.7,1074.29" fill="none" stroke="#5cb531" stroke-width="5.6" stroke-linejoin="round" stroke-linecap="butt"/>
<path d="M587.5,930.23 593,1003.24 594.5,1002.84 599,991.75 603,976.36 606,973.43 609.2,967.49 611.5,971.11 613,969.87 614.5,972.8 617.5,974.25 619,977.82 620.5,977.64 623.5,981.9 630,1009.57 631.5,1020.53 633.5,1023.77 634,1024.03 635.5,1021.83 638.5,1025.08 639.5,1023.36 646,995.74 648.5,985.88 653.6,1005.41 655,1004.57 661.5,974.22 662,972.27 663,973.15 667,991.9 668.5,993.88 672.5,1008.23 674,1006.86 675.5,1009.68 677,1008.75 680,1002.69 681.5,995.64 682.5,989.18 684,985.84 685.5,985.77 686.3,984.34 688,992.4 691,998.27 695.7,974.01 699.2,938.74 701.5,893.26 704.5,687.12 709.1,267.5 715.5,869.02 717,914.37 723.5,1002.88 724.5,1008.74 725,1009.61 727.2,1005.74 733.5,961.05 734.2,956.81 738,977.05 740.5,981.3 747,1003.34 753.5,969.07 756.5,952.07 758,951.55 758.7,950.33 764.5,978.84 768.5,1010.4 769,1010.71 770,1009.87 771.6,1015.25 776.3,999.01 780.9,1010.63 782,1008.36 783.5,1008.95 785,1006.44 786,1006.91 787.5,1010.2 789,1008.3 791.5,1013.46 798,994.77 802,984.4 803.5,983.4 805,975.56 806,975.47 806.5,975.94 810,973.15 811,973.65 813.5,976.9 814.5,982.24 816,984.5 817.5,983.92 818.5,987.44 824.2,977.39 830.5,990.34 831.2,990.68 832.5,986.33 835.5,990.85 837,990.45 840,1001.95 842.9,1005.76 844,998.99 846.4,995.71 848,998.34 850,1007.74 853,1000.08 854.5,997.88 859.2,1012.03 860.5,1008.9 862,999.45 864,993.01 870.5,908.4 871,899.66 877.1,674.93 882,627.73 884,645.12 890.5,839.32 895,963.56 900,1000.33 903.5,1005.98 906.5,1007.2 908,1011.07 911,1003.18 915.5,996.74 916,997.35 916.5,999.83 917,1000.21 919.5,999 921,1005.85 921.9,1006.17 923.5,1003.72 925,1003.07 925.5,1000.75 926,1000.45 930.5,1006 931.5,1006.12 938,984.54 938.5,982.4 939.5,983.55 942,995.95 945,987.61 946.5,987.87 947.5,989.89 947.6,991.16 949,987.27 952,988.56 955.8,1004.48 957,1002.75 958.5,996.82 960.5,994.06 965.1,1002.63 968,1001.03 971,1002.37 972.5,1004.27 974,1001.85 975.5,1005.74 976.8,999.88 979.5,1004.86 981.5,1004.67 983.8,1008.03 985,1005.73 985.5,1005.62 990.5,1012.02 991,1013.3 992,1013.09 995,1009.35 996.5,1005.42 997.9,1005.42 998,1004.79 999,1004.36 1000.5,1008.47 1002,1006.88 1005,1015.03 1006.5,1012.35 1008,1015.22 1013,994.79 1013.5,993.93 1015,996.75 1019,988.79 1020.5,990.59 1023,989.31 1025,992.05 1026,992.01 1027.5,984.45 1029,983.03 1030.6,975.42 1031.5,976.01 1033,975.06 1034.5,972.23 1037.5,971.87 1042.5,957.59 1045.5,944.19 1048.1,924.22 1049.5,923.49 1050.5,921.83 1053.5,923.65 1057.5,937.28 1061.5,960.08 1063.5,977.03 1066,984.84 1072.5,996.2 1075.5,997.42 1078.5,1001.62 1079.6,1006.17 1081.5,1002.66 1084,994.27 1085,996.48 1088,993.13 1092,1001.54 1095,1002.89 1096.5,1005.81 1098,1005.22 1100.5,1007.37 1102,1006.68 1106.5,1009.86 1107.7,1009.41 1112.3,996.27 1115,1000.55 1117,1001.37 1117.5,1000.49 1119,1000.21 1125.5,979.49 1126.4,978.4 1127.5,973.95 1129,974.37 1132.5,963.57 1133,963.53 1135,961.11 1136,961.28 1137.5,966.71 1138,967.28 1139,967 1140.5,968.13 1141.5,968.29 1143.9,964.92 1144,965.26 1146,960.92 1146.5,960.67 1147.5,961.75 1154,986.68 1156,993.54 1158.5,993.83 1160,992.26 1163.5,996.99 1164,998.34 1167.5,999.57 1170,994.91 1171.5,993.9 1173,989.69 1174,992.32 1175.5,990.46 1177,993.65 1178,993.88 1180,995.17 1181.5,995.44 1182.7,1000.17 1183.5,999.91 1185,998.57 1187,999.69 1188.6,1003.11 1189.5,1002.74 1191,1005.41 1192.5,1002.56 1193.5,1005.77 1195,1002.15 1196.5,1000.87 1197,999.98 1197.5,1000.27 1199,1004.94 1200.5,1004.64 1201.5,1006.74 1204.5,1002.15 1206,1003.98 1207.2,1003.33 1211.5,987.94 1211.9,987.81 1212,988.49 1218,971.54 1219.5,971.12 1221.3,968.09 1225,978.1 1225.9,978.26 1226,977.9 1227.5,981.8 1230.6,1000.79 1231,1000.41 1233,1001.75 1237,1008.65 1238.5,1006.05 1240,1006.31 1241.5,999.01 1243,997.7 1249.3,962.84 1255.5,914.48 1260.3,878.94 1262.1,882.44 1264.5,896.34 1271,950.86 1277.3,990.21 1283.5,1000.96 1285,1007.05 1286.5,1007.47 1289,1014.67 1291.4,1013.27 1294.5,1003.6 1296,1001.47 1302.5,976.81 1305.5,955.47 1312,875.29 1317.5,796.04 1320,781.68 1326.5,835.32 1333,873.58 1339.5,894.47 1340.5,898.37 1347,959.1 1352,985.45 1354.4,990.07 1355.5,993.67 1357,988.53 1358.5,990.53 1365,982.24 1365.5,983.43 1367,984.27 1368.5,982.27 1369.6,986.68 1371,988.18 1372.5,988.46 1377,995.75 1380.1,1004.22 1381.5,1004.67 1382.5,1004.26 1384,1006.36 1385.5,1004.91 1386,1005.28 1390.5,1001.59 1390.7,1001.07 1392.5,1004.07 1394,1004.57 1395.5,1008.75 1396.5,1008.66 1402.5,985.83 1404.7,983.32 1409.3,989.52 1412,985.92 1413.5,986.77 1415.2,985.21 1416,985.39 1417.5,984.17 1419,981.95 1424.5,999.04 1425,999.05 1427,1003.28 1431.5,977.4 1435,972.47 1436.2,972.33 1437.5,969.63 1440.5,969.27 1441,969.66 1442.1,967.41 1446,941.11 1452.5,843.15 1459,751 1460.2,738.5 1463.5,777.18 1470,893.38 1476.5,963.92 1481,1001.44 1483.5,1006.38 1484.5,1006.18 1486,1007.49 1490.2,991.79 1496.5,916.04 1503,769.7 1509.5,536.2 1513.5,475.21 1515.5,497.13 1519.5,600.48 1525.5,880.98 1531.1,923.79 1532,924.18 1533.5,926.64 1534.5,926.9 1541,956.2 1547.5,997.12 1548.6,1006.02 1549,1006.7 1552,1001.35 1552.1,999.93 1553,999.03 1554.5,1007.06 1556,1009.22 1557,1008.82 1558.5,1003.31 1559.2,1002.72 1561.5,1013.32 1562.5,1011.95 1565.5,999.91 1568.5,984.24 1575,936.19 1575.5,932.96 1576,933.68 1582.5,958.92 1587.5,970.37 1588.5,968.32 1589.5,968.03 1596,981.68 1596.5,982.19 1597.7,986.46 1599,984.16 1600.5,976.3 1602,979.07 1603,977.29 1604.5,977.65 1606,973.52 1607,974.96 1613.5,1000.58 1616.5,1011.8 1619.5,1002.25 1621.5,992.11 1623.5,990.46 1625.7,985.28 1631.5,1010.21 1634,1011.84 1635.5,1014.02 1637.5,1023.55 1638.6,1025.68 1641,1017.94 1643,1017.93 1643.3,1018.34 1649,977.15 1650,974.55 1650.3,975.25 1656.1,912.92 1662.5,725.7 1669,550.34 1672.5,512.54 1675,545.61 1681.5,760.84 1684.5,872.02 1689,928 1692.5,949.34 1694.5,952.21 1701,975.12 1704.5,987.36 1705.5,987.59 1706.4,987.12 1706.5,986.66 1708.5,991.85 1710,990.92 1714.5,1001.89 1715.5,1002.21 1715.7,1001.62 1717,1005.89 1718.5,1006.93 1719.2,1009.25 1722.5,1000.69 1726.2,978.68 1729,943.56 1735.5,832.41 1740.2,783.21 1746,833.27 1752.5,947.5 1755.5,997.02 1756.2,1000.48 1756.5,998.73 1758.5,995.95 1759.7,990.95 1763.5,959.58 1767.5,949.31 1767.9,949.29 1774,978.86 1778,987.54 1779.5,993.84 1781,991.7 1782,996.85 1783.5,997.46 1785,996.64 1787.8,1002.95 1789,1001.16 1790.5,1001.77 1792,998.88 1793.5,1000.21 1793.6,1000.89 1798.5,993.63 1805,946.18 1809,904.99 1815.5,638.41 1821,462.11 1823.2,430.43 1825,465.24 1831.5,711.55 1837.5,924.76 1843.8,966.72 1849,981.18 1850.5,981.6 1854.5,990.73 1856,991.78 1858,998.47 1861.5,997.24 1863,1001.05 1865,999.96 1867,1002.4 1868.5,1005.98 1869.5,1005.15 1870,1004.03 1871.5,1004.13 1873,1002.53 1877,1002.69 1878.5,1005.47 1880,1004.99 1881.5,1005.82 1884.5,1014.01 1886.5,1012.83 1888.5,1013.75 1890,1012.39 1891.5,1009.03 1892.5,1010.32 1895.5,1005.37 1897,1005.43 1898,1003.07 1899.5,1004.78 1901,1000.18 1903,1002.09 1904,1004.07 1906,1005.52 1908,1002.16 1909.5,1001.55 1912,1005.59 1915,1008.54 1916.3,1012.1 1921,1003.26 1924.5,1002.29 1925.5,1002.81 1928.5,1007.81 1931.5,1010.38 1933,1007.22 1936,1012.11 1937.3,1010.83 1938.5,1011.72 1940,1010.09 1945,1012.1 1947,1011.23 1950,1007.48 1951,1012.42 1952.5,1010.05 1954,1012.43 1955.5,1006.74 1956,1007.72 1957,1008.08 1960,1003.1 1961.5,1002.34 1962,1001.53 1964,1001.99 1969.5,1011.95 1972.5,1011.46 1973.5,1012.1 1975,1012.34 1975.5,1012.98 1977,1012.2 1979.5,1014.98 1980.5,1027.95 1981.7,1073.69" fill="none" stroke="#5cb531" stroke-width="5.6" stroke-linejoin="round" stroke-linecap="butt"/>
<path d="M587.5,920.37 593,998.94 594.5,995.68 596,995.64 597.5,991.44 599,990.67 603.5,973.97 607.5,971.69 609.2,966.07 610,966.56 611.5,970.31 614,970.94 616,973.33 617.5,978.6 619,979.72 620.5,978.12 622,980.77 623.2,981.04 627.5,991.85 628,991.62 631.5,1007.51 632.5,1008.02 634,1007.47 635.5,1005.49 637,1006.7 639.6,1005.69 643.1,985.06 645,978.58 646.5,977.73 648.5,970.2 653.6,982.56 656.5,975.28 657,974.94 657.1,975.58 661.8,960.6 663,967.55 664.5,969.84 667,979.6 668.5,979.21 671.5,988.76 672.3,989.05 672.5,988.54 675.5,989.43 677,992.31 681.6,978.4 682.5,980.32 684,981.07 685.5,985.11 686.5,984.26 689.5,994.89 691,996.36 695.7,975.02 699.5,932.23 701.5,892.34 704.5,687.12 709.1,267.5 715.5,869.03 717,912.94 720.5,979.98 724,1005.68 725,1007.99 727.2,1005.61 733.5,962.57 734.2,956.87 737.7,970.37 740.5,984.1 743,990.23 747.1,1006.26 753.5,966.52 758,944.11 758.7,944.04 763,958.12 769.5,997.34 770,999.07 771.6,1000.48 776.3,981.43 778,985.36 780.9,1002.24 782,996.83 783.5,999.32 787.5,1001.07 789,1002.91 790.5,1002.43 791.5,1003.99 793,1003.42 796,990.07 797.5,987.74 799,983.85 800.5,984.42 804.5,975.31 805,975.13 806.5,976.99 809,972.38 813.6,978.69 816,981.81 817.5,980.06 818.5,985.88 821.5,977.84 823,977.83 824.2,974.28 825.5,975.02 827,978.42 828.5,977.06 830,981.16 831,981.22 832.5,978.63 837,982.32 840.5,993.16 842.9,994.78 846.4,987.56 848,989.94 850,1000.41 852,997.39 853,997.59 854.5,995.25 855,996.57 856.5,997.61 858,997.25 859.2,999.69 860.5,997.38 863.5,982.29 864,981.58 868.5,942.28 871,896.03 877.1,673.28 879.5,642.1 882,627.6 884,645.12 890.5,838.75 895,958.32 898.6,993.89 903.2,1004.44 907,1001.96 908,1004.73 909.5,1001.7 911,1002.37 912.5,998.17 915.5,997.51 916.1,996.21 916.5,996.25 918,999.18 919.5,999.13 922,1001.62 925,995.75 925.4,995.62 927.5,1001.27 929,1001.94 930,1001.4 933,997.6 934.5,991.36 935,991.72 937,986.83 938.5,976.89 939.5,978.92 942,991 943.5,986.6 945,985.87 946.5,987.48 947.6,986.61 949,983.77 952,988.92 952.5,987.68 956,1003.45 957,1002.73 960.5,995.16 961.5,995.72 963,999.13 964.5,999.44 965.5,1002.89 967,1001.34 968,1002.22 968.5,1002.13 970,997.39 971,997.42 972.5,1001.61 974,1000.52 975.5,1005.52 976.8,1005.61 978,1002.37 979.5,1006.33 981,1002.05 982.5,1006.93 986.5,1006.74 988,1005.07 989.5,1007.79 995,997.82 996.5,992.4 998,991.43 999,992.15 1000.5,997 1002,998.26 1003.5,1002.78 1005,1001.88 1006.5,999.41 1008,999.71 1008.5,1001.04 1013.5,986.49 1015,986.42 1017.5,982.38 1019,982.55 1020.5,985.83 1022,984.04 1023.5,985.95 1024,985.41 1025,985.42 1027.5,980 1031.5,964.71 1033,964.94 1034.5,961.3 1036,961.06 1040,953.37 1041.5,952.29 1048,916.35 1052.5,916.55 1053.5,917.26 1054.5,923.19 1061,954.73 1064,978.31 1067,987.72 1068.5,986.7 1069.5,991.16 1071,990.77 1077.5,1001.16 1079.6,1005.68 1084.5,995.37 1085,995.62 1086.5,993.64 1088,993.91 1089.5,995.78 1091,995.32 1093.5,997.1 1095,999.62 1099,994.64 1100.5,994.61 1102,997.28 1103.5,995.25 1105,997.77 1106.5,994.28 1107.7,996.45 1109,994.97 1110.5,990.03 1112,988.44 1112.5,986.96 1117,996.23 1117.5,996.08 1119.5,989.85 1125.5,967.52 1126.4,966.3 1126.5,966.67 1132,957.65 1133,959.89 1134.5,957.9 1136,964.97 1137.5,964.78 1138,965.14 1139,964.43 1141,966.76 1141.5,966.74 1143.5,961.75 1143.9,961.78 1144.5,963.36 1146.5,962.84 1147.5,963.92 1153,987.93 1154.5,987.89 1156,993.95 1157,994.12 1160,990.41 1161.5,991.19 1162,989.21 1162.5,988.76 1165.5,996.1 1167,993.83 1167.5,994.45 1168.5,993.71 1170,994.19 1173,991.37 1174,988.89 1175.5,993.88 1177,991.03 1182.7,1001.83 1184,998.47 1185,998.3 1188.6,1003.18 1189.5,1003.03 1191,1000.59 1192.5,999.92 1195,994.47 1196.5,995.24 1196.7,994.93 1201.5,1002.15 1203,1001.1 1204.5,1001.64 1206,994.9 1209,986.95 1210,986.15 1216.5,970.71 1216.6,971 1218,969.96 1219.5,970.11 1221.5,968.73 1223.5,972.67 1225,973.11 1231.5,1005.24 1233,1003.62 1234.5,1006.03 1237,1006.34 1238.5,1005.5 1240,1008.86 1241.5,1005.16 1248,972.09 1254.5,923.42 1260.3,878.66 1262.1,880.5 1266,904.13 1272.5,951.93 1277.5,981.26 1279,983.86 1281,984.07 1282.5,987.48 1283.5,987.82 1285,992.47 1286.5,993.52 1288,997.21 1289,997.51 1291.5,1001.04 1298,980.17 1300.5,974.25 1304.5,953.04 1311,884.33 1317.5,787.85 1320,772 1326.5,820.22 1333,854.64 1339.5,884.9 1343,908.37 1349.5,963.9 1354.5,985.93 1355.5,984.59 1358.5,977.48 1359,977.29 1359.1,977.8 1359.5,977.51 1361,971.46 1362.5,970.9 1365,966.14 1367,972.27 1368.5,970.04 1371,977.95 1372.5,978.51 1374,982.11 1375.5,982.69 1381,994.09 1382.5,993.2 1384,996.96 1385.5,994.91 1388.5,999.93 1390,996.73 1390.7,997.6 1394,1006.26 1395,1006.52 1396.5,1004.19 1398,998.01 1401,990.96 1402.5,984.08 1404,984.03 1405,988.2 1407,988.66 1409.3,988.07 1410.5,988.94 1412,983.22 1413.5,984.81 1415.2,980.5 1416,981.17 1418.5,980.71 1421,985.03 1423.5,991.13 1425,997.77 1426.5,997.42 1427,998.28 1433.5,972.33 1437.5,971.43 1439,968.51 1440.5,968.41 1442.1,965.21 1445.6,943.99 1448,917.73 1454.5,809.69 1460.2,738.5 1463.5,777.18 1470,893.45 1476.5,963.38 1481,995.41 1482,997.93 1483.2,1005.42 1484.5,1005.42 1486,1003.34 1486.7,1004.17 1490.2,990.13 1496.5,914.75 1503,765.58 1509.5,534.93 1513.5,474 1515.5,494 1519.5,592.67 1525.5,874.09 1531.1,915.38 1534.5,916.3 1541,955.25 1547.5,997.19 1548.6,1004.39 1550.5,1003.54 1552.1,1001.02 1553,1003.51 1554.5,1003.91 1556,1006.87 1557,1007.24 1559.2,1003.26 1561.5,1011.24 1565,997.1 1571.5,950.13 1575.5,930.94 1580.5,945.4 1582,953.69 1582.5,954.49 1585,953.44 1587.5,958.01 1589,956.72 1589.5,957.57 1590.5,957.71 1592,959.13 1593,959 1597.7,981.63 1599.5,977.55 1600.5,977.04 1602,977.66 1603,980.43 1604.5,976.69 1606,977.19 1607.1,976.63 1612.5,999.11 1614,1001.95 1615.5,1011.46 1616.4,1013.16 1621.1,991.97 1622,992.2 1625.7,984.12 1630.5,998.36 1631.5,999.58 1633,999.23 1634,1000.64 1635.5,1006.13 1637,1007.33 1638.6,1012.79 1639.5,1012.18 1643.5,1002.62 1647,977.45 1650.5,961.24 1656.1,901.92 1662.5,719.6 1669,546.67 1672.5,508.71 1675,542.21 1681.5,759.07 1684.5,868.52 1691,933.04 1693,944 1696,949.55 1697.5,957.12 1699,957.9 1701.7,968.98 1704.5,966 1706.4,971.47 1708.5,979.25 1710,980.95 1715.7,993.57 1719.2,1003.91 1721,999.39 1722.5,997.85 1724.5,985.17 1729,940.22 1735.5,827.24 1740.2,779.1 1746,829.93 1752.5,937.44 1756.2,990.24 1758.5,988.51 1759.7,986.13 1763.5,962.04 1764.5,959.89 1767.9,948.61 1770,956.23 1776.1,981.95 1778.5,990.57 1779.5,991.92 1782,998.64 1783.5,996.34 1785,998.5 1786.5,1000.1 1787,1000.08 1790,1002.55 1793.6,999.43 1797.5,991.93 1804,947.38 1809,896.51 1810,872.8 1816.5,603.32 1821,457.14 1823.2,425.8 1825,458.48 1831.5,700.57 1837.5,911.44 1840.5,945.21 1842,949.94 1843.8,962.4 1844,961.94 1849,974.89 1850.5,976.27 1852,980.95 1853,981.14 1853.2,980.78 1854.5,983.08 1856,988.15 1858,991.18 1858.5,991.25 1860,993.64 1861.5,990.34 1864.5,990.54 1865.5,991.66 1866.5,991.35 1867,991.59 1870,1000.12 1871.5,996.77 1873,998.73 1874.5,995.74 1875.4,997.36 1875.5,998.38 1877,996.69 1880,996.74 1881.5,995.04 1883,996.73 1886.5,1007.03 1888.5,1008.18 1890,1004.98 1891.5,1005.35 1892.5,1003.97 1894,1004.08 1897,999.58 1898,1000.53 1901,999.43 1904,1003.02 1909.5,997.4 1910.5,1000.69 1912,1001.5 1913.5,1005.02 1916.3,1006.7 1917.5,1007.54 1920.5,1004.87 1921.5,1002.98 1923,1004.67 1924.5,999.58 1925.5,1000.14 1925.6,1000.92 1927,1001.28 1928.5,1008.09 1930,1006.24 1931.5,1006.93 1933,1009.91 1936,1007.09 1937.3,1007.53 1938.5,1006.06 1940,1011.25 1941.5,1011.35 1942,1012.11 1944.3,1011.69 1945.5,1007.9 1947,1009.6 1948.5,1006.4 1950,1006.85 1951,1005.68 1952.5,1005.75 1954,1002.17 1956,1004.65 1957,1003.7 1960,997.99 1961.8,999.56 1962.5,1001.02 1964,997.74 1965.5,1001.69 1967,998.11 1971,1000.69 1972.5,998.85 1973.5,999.68 1977,996.05 1978.5,990.99 1979.8,993.13 1980.5,1004.61 1981.7,1078.89" fill="none" stroke="#5cb531" stroke-width="5.6" stroke-linejoin="round" stroke-linecap="butt"/>
<path d="M587.5,949.58 593,1021.47 599.5,1005.33 602.2,994.68 603,994.79 607.5,984.49 609.5,982.5 611.5,984.23 613,983.27 617.5,990.83 619,989.76 620.5,991.88 627,1008.5 628,1009.94 631.4,1023.78 632.5,1021.32 634,1023.42 635.5,1019.99 638.5,1017.07 639.6,1018.07 642.5,1011.18 643,1011.11 643.5,1013.54 646.5,1010.58 648.5,996.13 650,995.53 651,996.2 652.5,999.98 653.5,1000.91 655,989.94 656.5,986.79 662,963.3 663,965.48 666,980.72 667,989.94 668.5,991.19 671.5,1002.62 675.5,1005.02 680,991.44 681.5,990.94 685.5,1006.25 688,1008.25 691,1017.51 695.5,999.66 699.5,954.03 701.5,911.44 704.5,701.02 709.1,272.24 713,581.29 715.5,878.55 717,926.44 722,998.82 723.7,1009.71 724.5,1009.91 725,1011.13 726,1010.7 727.5,1007.84 731,992.69 734.2,968.23 739,992.05 740.5,994.41 744.5,1007.24 746,1008.82 747.1,1011.78 752.5,982.93 754,969.26 755.5,963.87 756.5,957.68 758.7,954.6 764.5,975.87 767,996.7 771.6,1008.38 776.3,985.66 778.5,991.31 781,1001.43 785.6,999.51 787.5,999.96 789,1002.17 790.5,1006.68 791.4,1006 796,989.43 797.5,987.13 799,983.41 805.5,976.68 807.8,974.96 809,975.59 810.5,972.73 812,976.68 813.6,976.56 816,984.01 817.5,985.68 818.5,987.77 821.5,980.36 823,981.54 824.2,979.27 825.5,983.12 827,984.15 830,992.01 831.2,993.47 832.5,991.34 834,995.33 835.5,996.43 837,994.03 838.5,994.39 840,998.03 842.9,998.06 843,998.53 845.5,996.82 846.5,993.81 850,1009.22 852,1008.51 854.5,999.27 855,1000.01 856.5,999.09 859.2,1003.62 864,986.77 868.5,947.5 871,900.08 877.1,677.18 882,627.6 884,645.09 890.5,845.48 895,966.14 898.6,1001.78 900,1002.17 901.5,1004.76 904,1014.85 905.5,1015.62 908,1021.18 909.5,1021.6 911,1017.75 912.5,1016.92 914,1017.62 916.1,1011.55 916.5,1011.25 918,1013.28 921,1012.88 922,1014.5 925.5,1008.41 926,1008.79 927.5,1006.57 930.1,1011.08 931.5,1006.64 933,1008.68 934.5,1003.5 935,1003.39 938.3,990.73 941.8,1000.43 943.5,995.85 945,997.75 946.5,994.14 947.6,994.38 950.5,992.1 952.3,993.07 954.5,1002.17 956,1012.21 960,1007.74 960.5,1006.61 963,1009.06 965,1013.48 965.5,1015.35 967,1013.48 968.5,1017.76 969.8,1018.48 971,1021.4 972.5,1022.25 974,1021.64 975.5,1024.68 976.8,1024.63 978,1027.73 979.5,1024.3 981,1026.36 982.5,1026.16 985,1030.24 988,1028.28 989.5,1029.8 990.8,1027.67 992,1027.18 993.5,1023.41 995,1021.68 998,1012.04 999,1011.23 1000.5,1012.22 1005,1020.17 1006.5,1021.12 1007.5,1020.9 1008,1020.19 1008.5,1020.82 1012,1008.86 1013,1007.82 1014,1007.83 1016.5,1005.43 1018,1004.96 1019,1001.71 1020.5,1005.57 1022,1007.01 1023.5,1006.17 1024.7,1006.56 1031,981.06 1037,972.69 1037.5,972.61 1037.6,972.96 1040,969.2 1044.6,950.33 1048.1,929.04 1049.5,928 1050.4,928.87 1052.5,932.29 1053.9,937.53 1060,966.13 1063.3,985.39 1063.5,984.87 1066.5,994.77 1067,995.38 1068.5,993.51 1071,999.87 1074,1001.71 1075.5,1004.84 1077,1012.29 1078.5,1010.72 1079.6,1014.09 1081,1013.33 1082.5,1010.38 1084,1010.33 1085,1007.35 1086.5,1009.59 1089.5,1005.53 1091.5,1007.9 1095,1005 1096.5,1006.93 1098,1005.91 1099,1003.62 1100.5,1005.41 1103.5,1002.89 1105,1005.69 1106.5,1005.92 1112,995.69 1112.5,992.39 1113,991.66 1116,996.5 1117.5,1001.55 1119.5,996.22 1120.5,990.54 1122,989.47 1125,979.48 1125.5,979.11 1126.4,979.5 1132.2,959.81 1135.5,962.74 1137.5,968.67 1138,968.91 1139,967.96 1141.5,974.33 1143.5,976.42 1144,975.55 1144.5,975.47 1151,996.8 1154.5,1012.44 1155.5,1013.17 1157,1012.05 1158.5,1013.57 1160,1011.91 1162,1016.22 1164,1016.05 1167,1024.25 1173,1008.34 1175.5,999.27 1177,997.83 1181.5,1007.27 1182.7,1012.08 1184,1012.82 1185.5,1011.48 1187,1012.41 1189.5,1007.96 1193.5,998.25 1195,998.23 1196.5,992.72 1201.4,1002.78 1201.5,1003.62 1203,999.81 1204.5,1000.7 1206,997.19 1207.2,996.47 1210,985.28 1211.5,984.98 1216.6,969 1219.5,971.73 1221.5,968.8 1225,978.28 1225.9,977.52 1226,976.7 1231.5,1006.33 1233,1002.52 1234.5,1003.23 1235.5,1005.45 1237,1006.42 1238.5,1008.49 1241.5,1000.58 1243,1000.65 1244.6,997.82 1251,963.53 1255.5,933.87 1260.3,890.83 1260.5,891.45 1262,892.03 1268.5,942.05 1275,979.34 1277,993.14 1278,991.09 1279.5,992.56 1282.5,999.16 1283.5,999.41 1287.9,1007.04 1289,1009.99 1290.5,1008.84 1291.5,1010.05 1294.5,1003.19 1296,995.05 1297.5,991.84 1299,985.45 1300.5,982.73 1305.5,949.69 1312,871.1 1317.5,787.85 1320,772 1326.5,820.22 1333,857.02 1339.5,883.68 1343,908.08 1349.5,967.67 1354.5,993.07 1355.5,991.85 1357,993.37 1358.5,988.93 1359,989.01 1359.1,989.88 1361,989.35 1362.5,984.21 1364,985.15 1365,981.8 1366,982.25 1367,983.97 1368,983.86 1368.5,983.27 1371,990.31 1372.5,988.67 1374,989.64 1380.1,1004.63 1381,1005.28 1385,1003.99 1386,1004.76 1388.5,1002.39 1390,998.25 1392.5,1006.44 1394,1007.09 1395.5,1011.26 1396.5,1010.23 1398,1005.28 1399.5,1004.83 1402.5,995.69 1404.7,992.93 1406.5,992.45 1408,994.59 1409.5,1001.73 1410.5,1003.66 1412,1002.58 1413.5,1005.36 1415,1005.45 1416,1003.75 1417.5,1004.06 1419,1000.48 1420.5,1002.98 1421,1003.12 1425,1010.79 1426.5,1016.03 1426.9,1015.31 1427.5,1009.46 1429,1006.38 1431.5,993.92 1432,993.22 1437.5,974.7 1439,972.9 1440.5,969.03 1442,967.37 1442.1,968.24 1445.6,954.69 1452,852.83 1458.5,753.15 1460.2,738.5 1463.2,768.45 1469.5,886.71 1476,961.82 1482.5,1013.41 1483.2,1016.85 1484.5,1014.85 1490,992.13 1491,985.48 1497.5,901.23 1503.5,749.08 1509.6,532.42 1513.5,474 1515.5,494 1519.5,594.07 1525.5,886.35 1529.5,922.1 1531.1,927.7 1533.5,929.94 1536,936.64 1538,946.57 1538.1,945.69 1544.5,983.97 1548.6,1011.57 1549,1010.8 1550.5,1010.79 1552,1011.85 1552.5,1010.15 1553,1010.01 1556,1013.46 1557,1012.79 1558.5,1009.63 1559.2,1009.81 1561,1014.57 1561.5,1017.37 1562.5,1015.84 1565.5,1003.96 1572,949.88 1575.5,932.01 1576,934.64 1577.5,936.53 1584,961.67 1586.5,964.16 1588.5,963.27 1592,970.59 1595,984.47 1596.5,987.3 1598,996.08 1599,997.8 1602,994.52 1603,997.93 1604.5,995.26 1606,997.7 1607.1,995.15 1611.5,1006.64 1616.4,1023.11 1616.5,1021.97 1618,1020.63 1621.1,1006.91 1622,1005.83 1623.5,1001.21 1625,1001.31 1625.7,998.51 1627.5,1001.18 1630.5,1013.01 1633.9,1020.49 1634,1021.62 1637.5,1025.1 1638.6,1028.7 1639.5,1027.75 1641,1023.53 1642.5,1022.63 1643.3,1020.77 1649.5,987.01 1656,917.66 1662.5,732.27 1669,551.05 1672.5,508.69 1675,544.14 1681.5,762.99 1684.5,873.23 1689,925.87 1692.5,945.1 1696,951.79 1697.5,952.37 1703,969.32 1704.5,968.74 1706,970.36 1706.5,970 1713,987.27 1716,998.52 1719.2,1004.08 1722.7,994.99 1726.5,968.9 1729,939.04 1735.5,826.62 1740.2,779.1 1746,837.66 1752.5,952.36 1755.5,1002.75 1756.2,1005.79 1756.5,1003.87 1758,1009.1 1759.5,1006.5 1759.7,1007.28 1763.5,986.34 1767,976.3 1767.5,976.1 1767.9,975.17 1772,994.53 1776,1001.95 1776.1,1001.01 1776.5,1000.9 1782,1017.6 1783.5,1014.96 1785,1017.29 1786.5,1016.95 1789,1009.23 1790.5,1007.83 1797,994.4 1801.5,978.78 1808,920.98 1810,883.64 1816.5,613.61 1823,428.84 1823.2,425.8 1825,460.79 1831.5,721.27 1837.5,931.27 1839.6,951.16 1840.5,953.47 1847,978.67 1849,985.07 1850.5,984.66 1853.2,988.74 1853.5,988.42 1854.5,989.11 1858,998.95 1860,1001.35 1861.5,1000.63 1864,1004.9 1865,1003.95 1865.5,1004.1 1868.5,1011.08 1869.5,1010.35 1870,1009.28 1871.5,1010.32 1873,1013.53 1876.5,1007.1 1877,1006.86 1881.5,1011.74 1883,1009.73 1886,1014.47 1888.5,1013.6 1890,1009.44 1892.5,1006.48 1894,1006.18 1895.5,1007.05 1897,1003.99 1899.5,1008.13 1901,1006.44 1902.5,1006.73 1906,1004.04 1908,999.53 1909.5,999.93 1910.5,997.33 1913.5,1005.9 1915,1006.75 1916.3,1011.47 1917.5,1006.3 1919,1008.56 1920.5,1008.75 1921.5,1006.96 1923,1007.2 1924.5,1012.48 1927,1012.17 1928.5,1018.25 1931.5,1018.27 1933,1020.09 1934.5,1018.97 1936,1021 1937.3,1020.52 1938.5,1021.83 1940,1019.03 1945.5,1022.17 1947,1018.39 1950.5,1014.81 1951,1014.72 1952.5,1013.01 1954,1012.94 1955.5,1014.27 1957,1009.15 1960,1007.28 1961.5,1008.15 1961.8,1007.87 1965,1012.96 1968,1012.17 1969.5,1014.91 1971,1010.37 1972.5,1013.26 1973.5,1013.43 1975.5,1010.73 1978.5,1010.67 1979.8,1006.47 1980.5,1018.42 1981.7,1076.6" fill="none" stroke="#8fc31f" stroke-width="5.6" stroke-linejoin="round" stroke-linecap="butt"/>
<path d="M587.5,936.24 593,1021.15 594.5,1020.32 596,1018.18 597.5,1018.57 604,999.9 609.2,989.8 610,990.72 611.5,990.43 614.5,992.1 617.5,995.95 619,994.45 620.5,995.31 622,995.31 626,1002.35 627.5,1001.27 631.5,1016.55 634,1016.55 635.5,1017.81 639.6,1016.96 646,990.01 648.5,982.92 653.6,1000.13 660,976.97 661.8,971.29 666.5,987.96 672.3,1000.4 674,999.63 677,999.55 681.5,989.83 681.6,988.51 682,988.05 682.5,988.09 684,993.3 685.5,994.95 691,1008.15 692.5,1004.3 696.5,981.61 699.2,956.77 701.5,909.3 704.5,700 709.1,273.5 715.5,900.14 717,949.83 723.5,1014.72 723.7,1014.96 724.5,1013.03 726,1014.37 727.2,1014.23 733.5,977.57 734.2,971.76 738,995.94 742.5,1007.3 747.1,1030.32 753.5,992.49 756.5,969.89 758.7,963.33 765,995.17 767,1006.91 771.6,1017.11 776.3,1000.75 781,1017.1 782,1017.49 785.6,1012.31 789,1013.66 791.5,1016.89 793,1010.67 794.5,1010.46 797.5,1001.84 798.5,1001.14 799,1001.61 800.5,1000.72 802,998.3 806.5,998.42 810.5,995.16 812,998.36 813.6,998.16 816,1002.59 817.5,1002.62 818.5,1006.11 821.5,997.46 823,996.97 824.2,994.05 825.5,997.35 827,997.62 831.2,1009.05 832.5,1008.62 834,1004.52 835.5,1004.56 837,999.07 838.5,1002.94 840,1004.14 841.5,1003.09 843,1004.52 846.4,997.94 850,1012.73 850.5,1012.33 853.5,1004.26 854.5,1003.43 859.2,1013.31 860.5,1010.98 864,1000.24 868.5,955.48 871,909.85 877.1,683 882,633.6 884,650 890.5,840 895,957.58 899,993.49 904,1015.67 905.5,1015.71 907.9,1017.81 908,1017.39 909.5,1017.55 911,1019.69 912.5,1019.57 914,1015.44 915.5,1014.58 916.5,1017.17 918,1017.73 919.5,1020.8 920.5,1021.07 921.9,1020.36 925.5,1014.37 927.5,1018.19 929,1018.43 931.5,1016.95 935,1011.7 938.3,999.39 942,1014.51 943.5,1010.72 946.5,1008.79 949,1009.42 952.3,1013.26 954.5,1019.74 955.8,1026.78 960.5,1016.89 965.1,1023.4 967,1022.71 969.8,1023.39 971,1022.09 972.5,1023.01 974,1025.4 975.5,1025.67 979.5,1031.79 981,1030.88 984,1037.02 987.5,1034.04 989.5,1034.77 990.8,1032.13 991,1032.94 992,1033.17 995,1025.35 997.9,1015.9 999,1018.81 1000.5,1018.32 1002,1022.97 1003.5,1019.47 1006.5,1022.81 1008,1021.15 1008.5,1021.45 1013.5,1009.88 1019,999.87 1020.5,1002.12 1026,993.11 1031,973.2 1033,971.21 1036,965.59 1037.6,964.87 1041.5,953.15 1043,953.2 1048.1,927.02 1050.4,924.43 1054,935.18 1060.5,970.55 1065.5,992.15 1068.5,997.95 1069.5,1001.53 1071,1002.36 1075,1010.64 1079.6,1021.16 1084.5,1014.38 1085,1014.43 1086.5,1016.94 1088,1016.26 1089.5,1018.13 1092,1019.45 1095,1022.89 1096.5,1021.7 1098,1024.57 1099,1021.95 1100.5,1024.48 1102,1023.85 1104.5,1026.52 1106.5,1026.23 1107.7,1027.01 1109,1023.07 1112,1021.13 1112.5,1019.54 1113,1019.31 1116,1021.94 1117,1023.75 1119,1020.05 1123.5,1017.05 1125,1020.72 1126.4,1021.65 1132,1007.24 1133,1011.07 1136,1012.62 1137.5,1012.41 1139,1013.94 1140.5,1013.67 1142,1011.96 1143.5,1011.95 1144,1011.2 1149,1018.19 1150,1017.39 1156,1028.38 1158.5,1027.11 1161.5,1023.4 1162,1021.63 1162.5,1021.15 1165.5,1026.3 1167.5,1027.27 1168.5,1025.79 1170,1025.72 1173,1021.8 1174,1018.99 1175.5,1019.1 1178,1017.88 1182.7,1028.37 1184,1027.81 1185.5,1029.1 1187,1028.77 1188.6,1031.16 1195,1020.34 1196.7,1016.36 1197.5,1016.58 1199,1020.28 1201.4,1021.19 1204.5,1016.5 1206,1017.47 1207.2,1016.33 1213.5,998.05 1220,980.61 1221,979.19 1227.5,998.85 1230.6,1010.54 1231.5,1009.98 1235.5,1011.89 1237,1014.48 1238.5,1014.09 1240,1015.8 1244.6,1003.67 1251,961.65 1254,948.31 1260.3,889.4 1262.1,893.82 1268.5,940.5 1275,985.51 1281.5,1005.05 1285,1010.81 1286.5,1015.31 1288,1015.86 1290.5,1021.93 1291.4,1021.83 1297.5,1007.87 1304,989.86 1305.4,985.41 1311.5,910.71 1318,805.8 1320,789 1326.5,840.43 1333,878.07 1339.5,910.42 1346,958.31 1352.5,990.81 1354.5,996.51 1359.5,989.82 1361,985.65 1362.5,984.79 1365,977.13 1365.5,978.33 1367,978.89 1371,985.98 1372.5,987.3 1379,1001.53 1380,1003.83 1381,1003.47 1382.5,1005.4 1384,1004.25 1387,1009.6 1390,1009.55 1391,1013.9 1392.5,1015.25 1395.3,1023.21 1401.5,1012.33 1404,1006.88 1405,1003.27 1406.5,1006.77 1408,1007.27 1409.3,1009.17 1412,1006.43 1413.5,1006.84 1415.2,1005.38 1420.5,1009.26 1422,1016.16 1423.5,1016.46 1425,1022.89 1426.9,1024.01 1427.5,1020.45 1429,1017.45 1435.5,992.16 1436.2,989.88 1437.5,989.18 1442.1,977.05 1445.6,958.67 1452,866.34 1458.5,782.58 1460.2,768.5 1463.2,795 1469.5,896.31 1476,965.14 1481,1008.03 1484.5,1015.61 1486.7,1012.11 1490.2,998.63 1496.5,920.43 1503,772.44 1509.5,542.5 1513.5,482 1515.5,502 1519.5,600.67 1525.5,882.06 1531.1,922.96 1532,921.77 1534.6,926.29 1538.1,940.03 1544.5,984.59 1548.6,1009.69 1549,1008.35 1552,1007.21 1552.1,1006.79 1554.5,1011.09 1555.7,1016.65 1558.5,1013.25 1559.2,1010.65 1561,1019.47 1561.5,1020.28 1565,1005.61 1568.5,986.5 1575,943.52 1575.5,941.61 1582,962.78 1582.5,964.2 1585,965.66 1586.5,968.07 1587.5,966.59 1593,972.12 1597.7,991 1602.5,984.92 1603,984.98 1604.5,983.01 1606,983.94 1607.1,980.92 1613.5,1011.15 1616.4,1019.13 1621.1,1000.2 1622,999.78 1625.7,993.24 1630.5,1006.89 1631.5,1007.67 1633,1007.27 1635.5,1009.57 1638.6,1020.48 1641,1016.32 1643.5,1008.82 1650,969.14 1656.1,908.63 1662.5,727.14 1669,555.17 1672.5,517.69 1675,550.62 1681.5,766 1684.5,874.77 1689,927.75 1692.5,948.21 1694.5,952.09 1700.5,972.06 1701.5,973.39 1702,972.9 1703,973.38 1709.5,985.41 1714.5,997.31 1717,1006.87 1719.2,1009.47 1721,1006 1722.5,1000.65 1722.7,1000.89 1726.2,980.44 1732.5,876 1739,804.58 1740.2,795.1 1746,846 1752.5,953.47 1756.2,1002.46 1759.5,1004.92 1763.2,985.01 1766,982.29 1767.9,977.81 1774,998.44 1780.5,1015.87 1785,1025.25 1786.5,1025.95 1787.8,1028.51 1789,1025.92 1790.5,1025.89 1793.6,1023.07 1796,1017.42 1802.5,982.21 1806.5,951.17 1810,895.17 1816.5,620 1821,470 1823.2,436.8 1825,470 1831.5,713.98 1837.5,928.53 1839.6,953.81 1846,982.24 1848.5,990.16 1853.5,997.42 1858,1007.23 1861.5,1007.42 1863,1005.74 1864,1009.95 1866.5,1012.64 1867,1012.51 1868.5,1014.26 1869.5,1013.32 1873,1008.86 1874.5,1009.33 1877,1006.35 1881.5,1011.4 1883,1011.6 1885.9,1017.13 1887,1014.69 1888.5,1015.54 1891.5,1014.38 1892.5,1012.69 1895.5,1012.9 1897.6,1011.85 1899.5,1015.4 1901,1012.43 1902.5,1015.44 1904,1014.49 1905,1014.75 1906.5,1013.04 1908,1014.93 1910.5,1014.04 1912,1015.51 1913.5,1020.02 1916.5,1021.03 1919,1018.05 1921,1014.49 1925.5,1013.2 1927,1011.58 1930,1013.31 1931.5,1015.96 1937.3,1019.75 1940,1018.42 1943,1019.39 1944.5,1021.96 1945.5,1022.74 1948.5,1020.67 1950,1022.14 1951,1019.93 1952.5,1022.91 1955.5,1023.67 1956,1024.13 1957,1023.48 1960,1016.64 1961.5,1017.38 1965,1018.34 1967,1021.42 1968,1021.61 1969.5,1019.37 1971,1021.1 1972.5,1014.39 1974,1016.12 1975.5,1014.9 1977,1010.87 1978.5,1013.86 1979.8,1019.84 1981.7,1057.14" fill="none" stroke="#e7161b" stroke-width="5.8" stroke-linejoin="round" stroke-linecap="butt"/>
</g>
<g id="sem-inset">
<defs>
<filter id="semtexA" x="0" y="0" width="100%" height="100%" color-interpolation-filters="sRGB">
<feTurbulence type="fractalNoise" baseFrequency="0.24" numOctaves="2" seed="3" result="nf"/>
<feColorMatrix in="nf" type="matrix" values="1 0 0 0 0  1 0 0 0 0  1 0 0 0 0  0 0 0 0 1" result="gf"/>
<feComponentTransfer in="gf" result="fine"><feFuncR type="table" tableValues="0.000 0.000 0.000 0.000 0.000 0.011 0.042 0.074 0.105 0.136 0.167 0.199 0.230 0.261 0.292 0.324 0.355 0.386 0.417 0.449 0.480 0.511 0.542 0.574 0.605 0.636 0.667 0.699 0.730 0.761 0.792 0.824 0.855 0.886 0.917 0.949 0.980 1.000 1.000 1.000 1.000"/><feFuncG type="table" tableValues="0.000 0.000 0.000 0.000 0.000 0.011 0.042 0.074 0.105 0.136 0.167 0.199 0.230 0.261 0.292 0.324 0.355 0.386 0.417 0.449 0.480 0.511 0.542 0.574 0.605 0.636 0.667 0.699 0.730 0.761 0.792 0.824 0.855 0.886 0.917 0.949 0.980 1.000 1.000 1.000 1.000"/><feFuncB type="table" tableValues="0.000 0.000 0.000 0.000 0.000 0.011 0.042 0.074 0.105 0.136 0.167 0.199 0.230 0.261 0.292 0.324 0.355 0.386 0.417 0.449 0.480 0.511 0.542 0.574 0.605 0.636 0.667 0.699 0.730 0.761 0.792 0.824 0.855 0.886 0.917 0.949 0.980 1.000 1.000 1.000 1.000"/></feComponentTransfer>
<feTurbulence type="fractalNoise" baseFrequency="0.085" numOctaves="2" seed="8" result="nc"/>
<feColorMatrix in="nc" type="matrix" values="1 0 0 0 0  1 0 0 0 0  1 0 0 0 0  0 0 0 0 1" result="gc"/>
<feComponentTransfer in="gc" result="mask"><feFuncR type="table" tableValues="0.150 0.150 0.150 0.150 0.150 0.150 0.150 0.150 0.150 0.150 0.150 0.150 0.150 0.150 0.150 0.150 0.327 0.686 0.967 1.000 1.000 1.000 1.000 1.000 1.000 1.000 1.000 1.000 1.000 1.000 1.000 1.000 1.000 1.000 1.000 1.000 1.000 1.000 1.000 1.000 1.000"/><feFuncG type="table" tableValues="0.150 0.150 0.150 0.150 0.150 0.150 0.150 0.150 0.150 0.150 0.150 0.150 0.150 0.150 0.150 0.150 0.327 0.686 0.967 1.000 1.000 1.000 1.000 1.000 1.000 1.000 1.000 1.000 1.000 1.000 1.000 1.000 1.000 1.000 1.000 1.000 1.000 1.000 1.000 1.000 1.000"/><feFuncB type="table" tableValues="0.150 0.150 0.150 0.150 0.150 0.150 0.150 0.150 0.150 0.150 0.150 0.150 0.150 0.150 0.150 0.150 0.327 0.686 0.967 1.000 1.000 1.000 1.000 1.000 1.000 1.000 1.000 1.000 1.000 1.000 1.000 1.000 1.000 1.000 1.000 1.000 1.000 1.000 1.000 1.000 1.000"/></feComponentTransfer>
<feComposite in="fine" in2="mask" operator="arithmetic" k1="1" k2="0" k3="0" k4="0" result="tex"/>
<feTurbulence type="fractalNoise" baseFrequency="0.42" numOctaves="1" seed="21" result="n2"/>
<feColorMatrix in="n2" type="matrix" values="0 0 0 0 1  0 0 0 0 1  0 0 0 0 1  14 0 0 0 -10.0" result="speck"/>
<feMerge><feMergeNode in="tex"/><feMergeNode in="speck"/></feMerge>
</filter>
<filter id="semtexB" x="0" y="0" width="100%" height="100%" color-interpolation-filters="sRGB">
<feTurbulence type="fractalNoise" baseFrequency="0.24" numOctaves="2" seed="11" result="nf"/>
<feColorMatrix in="nf" type="matrix" values="1 0 0 0 0  1 0 0 0 0  1 0 0 0 0  0 0 0 0 1" result="gf"/>
<feComponentTransfer in="gf" result="fine"><feFuncR type="table" tableValues="0.000 0.000 0.000 0.000 0.010 0.041 0.073 0.104 0.135 0.166 0.198 0.229 0.260 0.291 0.323 0.354 0.385 0.416 0.448 0.479 0.510 0.541 0.573 0.604 0.635 0.666 0.698 0.729 0.760 0.791 0.823 0.854 0.885 0.916 0.948 0.979 1.000 1.000 1.000 1.000 1.000"/><feFuncG type="table" tableValues="0.000 0.000 0.000 0.000 0.010 0.041 0.073 0.104 0.135 0.166 0.198 0.229 0.260 0.291 0.323 0.354 0.385 0.416 0.448 0.479 0.510 0.541 0.573 0.604 0.635 0.666 0.698 0.729 0.760 0.791 0.823 0.854 0.885 0.916 0.948 0.979 1.000 1.000 1.000 1.000 1.000"/><feFuncB type="table" tableValues="0.000 0.000 0.000 0.000 0.010 0.041 0.073 0.104 0.135 0.166 0.198 0.229 0.260 0.291 0.323 0.354 0.385 0.416 0.448 0.479 0.510 0.541 0.573 0.604 0.635 0.666 0.698 0.729 0.760 0.791 0.823 0.854 0.885 0.916 0.948 0.979 1.000 1.000 1.000 1.000 1.000"/></feComponentTransfer>
<feTurbulence type="fractalNoise" baseFrequency="0.12" numOctaves="2" seed="16" result="nc"/>
<feColorMatrix in="nc" type="matrix" values="1 0 0 0 0  1 0 0 0 0  1 0 0 0 0  0 0 0 0 1" result="gc"/>
<feComponentTransfer in="gc" result="mask"><feFuncR type="table" tableValues="0.180 0.180 0.180 0.180 0.180 0.180 0.180 0.180 0.180 0.180 0.180 0.180 0.180 0.180 0.248 0.554 0.885 1.000 1.000 1.000 1.000 1.000 1.000 1.000 1.000 1.000 1.000 1.000 1.000 1.000 1.000 1.000 1.000 1.000 1.000 1.000 1.000 1.000 1.000 1.000 1.000"/><feFuncG type="table" tableValues="0.180 0.180 0.180 0.180 0.180 0.180 0.180 0.180 0.180 0.180 0.180 0.180 0.180 0.180 0.248 0.554 0.885 1.000 1.000 1.000 1.000 1.000 1.000 1.000 1.000 1.000 1.000 1.000 1.000 1.000 1.000 1.000 1.000 1.000 1.000 1.000 1.000 1.000 1.000 1.000 1.000"/><feFuncB type="table" tableValues="0.180 0.180 0.180 0.180 0.180 0.180 0.180 0.180 0.180 0.180 0.180 0.180 0.180 0.180 0.248 0.554 0.885 1.000 1.000 1.000 1.000 1.000 1.000 1.000 1.000 1.000 1.000 1.000 1.000 1.000 1.000 1.000 1.000 1.000 1.000 1.000 1.000 1.000 1.000 1.000 1.000"/></feComponentTransfer>
<feComposite in="fine" in2="mask" operator="arithmetic" k1="1" k2="0" k3="0" k4="0" result="tex"/>
<feTurbulence type="fractalNoise" baseFrequency="0.42" numOctaves="1" seed="29" result="n2"/>
<feColorMatrix in="n2" type="matrix" values="0 0 0 0 1  0 0 0 0 1  0 0 0 0 1  14 0 0 0 -10.0" result="speck"/>
<feMerge><feMergeNode in="tex"/><feMergeNode in="speck"/></feMerge>
</filter>
<filter id="semblur" x="-20%" y="-20%" width="140%" height="140%"><feGaussianBlur stdDeviation="6.5"/></filter>
<filter id="semblur2" x="-30%" y="-30%" width="160%" height="160%"><feGaussianBlur stdDeviation="1.1"/></filter>
<clipPath id="semclip"><rect x="979.9" y="107.2" width="557.9" height="481.2"/></clipPath>
<clipPath id="semin"><polygon points="1184.7,116.7 1020.7,382.1 1247.2,569.1 1442.2,382.1 1301.9,164.1"/></clipPath>
<radialGradient id="pit"><stop offset="0" stop-color="#3c3c3c"/><stop offset="0.55" stop-color="#1c1c1c"/><stop offset="1" stop-color="#070707"/></radialGradient>
</defs>
<rect x="979.9" y="107.2" width="557.9" height="481.2" fill="#777" filter="url(#semtexA)"/>
<g clip-path="url(#semin)"><rect x="979.9" y="107.2" width="557.9" height="481.2" fill="#777" filter="url(#semtexB)"/></g>
<g clip-path="url(#semclip)">
<g filter="url(#semblur)" opacity="0.5" fill="none" stroke="#000" stroke-linecap="round" stroke-linejoin="round">
<polyline points="1202.9,102.1 1184.7,116.7 1144.6,181.1 1102.7,249.1 1057.2,323.8 1020.7,382.1 984.3,417.9" stroke-width="40"/>
<polyline points="984.3,363.3 1020.7,382.1 1081.5,431.9 1136.1,477.4 1190.8,522.4 1247.2,569.1 1275.8,594.0" stroke-width="42"/>
<polyline points="1287.9,144.7 1301.9,164.1 1343.8,229.7 1385.1,293.4 1442.2,382.1 1488.3,399.7 1549.1,417.9" stroke-width="38"/>
<polyline points="1442.2,382.1 1409.4,413.7 1379.0,442.8 1342.6,477.4 1300.1,518.1 1247.2,569.1" stroke-width="36"/>
</g>
<g filter="url(#semblur2)">
<rect x="1051.9" y="279.0" width="41.0" height="41.0" transform="rotate(45 1072.3 299.5)" fill="url(#pit)"/>
<ellipse cx="1506.5" cy="135.5" rx="18.2" ry="19.4" fill="url(#pit)"/>
<ellipse cx="1005.5" cy="244.9" rx="9.7" ry="13.4" fill="url(#pit)"/>
<rect x="1020.0" y="456.6" width="25.8" height="25.8" transform="rotate(45 1032.9 469.5)" fill="url(#pit)"/>
<ellipse cx="1521.7" cy="223.6" rx="7.3" ry="17.0" fill="url(#pit)"/>
<ellipse cx="1509.6" cy="296.5" rx="5.5" ry="14.6" fill="url(#pit)"/>
<ellipse cx="1236.3" cy="244.9" rx="5.5" ry="15.8" fill="url(#pit)"/>
<rect x="1217.3" y="359.5" width="19.7" height="19.7" transform="rotate(45 1227.2 369.3)" fill="url(#pit)"/>
<ellipse cx="1227.2" cy="583.1" rx="13.4" ry="9.7" fill="url(#pit)"/>
<ellipse cx="1445.8" cy="580.7" rx="9.7" ry="7.3" fill="url(#pit)"/>
<ellipse cx="981.3" cy="168.9" rx="6.1" ry="6.1" fill="url(#pit)"/>
</g>
<polyline points="1454.9,405.8 1454.9,527.2" fill="none" stroke="#0c0c0c" stroke-width="7" stroke-opacity="0.92" stroke-dasharray="15 12" stroke-linecap="round"/>
<polyline points="1105.7,539.4 1105.7,584.9" fill="none" stroke="#0c0c0c" stroke-width="7" stroke-opacity="0.92" stroke-dasharray="15 12" stroke-linecap="round"/>
<polyline points="1011.6,144.7 1011.6,211.5" fill="none" stroke="#0c0c0c" stroke-width="7" stroke-opacity="0.92" stroke-dasharray="15 12" stroke-linecap="round"/>
<polyline points="1105.7,360.2 1215.1,361.5" fill="none" stroke="#0c0c0c" stroke-width="7" stroke-opacity="0.92" stroke-dasharray="15 12" stroke-linecap="round"/>
<polyline points="1300.1,366.3 1348.7,366.3" fill="none" stroke="#0c0c0c" stroke-width="7" stroke-opacity="0.92" stroke-dasharray="15 12" stroke-linecap="round"/>
<polyline points="1238.1,144.7 1234.5,211.5" fill="none" stroke="#0c0c0c" stroke-width="7" stroke-opacity="0.92" stroke-dasharray="15 12" stroke-linecap="round"/>
<polyline points="1409.4,366.3 1445.8,369.3" fill="none" stroke="#0c0c0c" stroke-width="7" stroke-opacity="0.92" stroke-dasharray="15 12" stroke-linecap="round"/>
<polyline points="1038.9,138.6 1038.9,181.1" fill="none" stroke="#0c0c0c" stroke-width="7" stroke-opacity="0.92" stroke-dasharray="15 12" stroke-linecap="round"/>
<polyline points="1506.5,278.3 1509.6,320.8" fill="none" stroke="#0c0c0c" stroke-width="7" stroke-opacity="0.92" stroke-dasharray="15 12" stroke-linecap="round"/>
</g>
<rect x="1295" y="161.7" width="149.6" height="144.5" fill="none" stroke="#e7161b" stroke-width="8.2" stroke-dasharray="25.8 9.4"/>
</g>
<text transform="translate(430.11,174.44) scale(1.0850,1)" font-size="61">8000</text>
<text transform="translate(428.93,393.88) scale(1.0957,1)" font-size="61">6000</text>
<text transform="translate(430.94,613.32) scale(1.0790,1)" font-size="61">4000</text>
<text transform="translate(430.15,832.76) scale(1.0855,1)" font-size="61">2000</text>
<text transform="translate(513.64,1052.2) scale(1.0693,1)" font-size="61">0</text>
<text transform="translate(652.67,1218.6) scale(1.0799,1)" font-size="61">600</text>
<text transform="translate(867.73,1218.6) scale(1.0781,1)" font-size="61">800</text>
<text transform="translate(1067.49,1218.6) scale(1.0877,1)" font-size="61">1000</text>
<text transform="translate(1283.03,1218.6) scale(1.0790,1)" font-size="61">1200</text>
<text transform="translate(1498.2,1218.6) scale(1.0860,1)" font-size="61">1400</text>
<text transform="translate(1713.26,1218.6) scale(1.0747,1)" font-size="61">1600</text>
<text transform="translate(1928.43,1218.6) scale(1.0790,1)" font-size="61">1800</text>
<text transform="translate(1082.38,1307) scale(1.1200,1)" font-size="59" letter-spacing="2.66">Raman shift</text>
<text transform="translate(1441.2,1320.7) scale(1.0468,1)" font-size="87">/</text>
<text transform="translate(1470.78,1307) scale(1.1396,1)" font-size="59">cm</text>
<text transform="translate(1561.24,1290.3) scale(1.3858,1)" font-size="39">−1</text>
<text transform="translate(376.6,812.78) rotate(-90) scale(1.1200,1)" font-size="59" letter-spacing="1.44">Intensity</text>
<text transform="translate(388,557.4) rotate(-90) scale(1.2345,1)" font-size="86.5">/</text>
<text transform="translate(376.6,520.98) rotate(-90) scale(1.1200,1)" font-size="59" letter-spacing="3.05">arb. units</text>
<text transform="translate(654.53,122.7) scale(0.8854,1)" font-size="64">(</text>
<text transform="translate(676.74,121.6) scale(1.3653,1)" font-size="52.7">a</text>
<text transform="translate(711.15,122.7) scale(0.9135,1)" font-size="64">)</text>
</g>
<g id="right-plot">
<rect x="2346.7" y="166.6" width="68.6" height="984.8" fill="#e7161b" stroke="#0a0605" stroke-width="4.8"/>
<rect x="2483.7" y="247.7" width="68.6" height="903.7" fill="#e7161b" stroke="#0a0605" stroke-width="4.8"/>
<rect x="2620.7" y="213.7" width="68.6" height="937.7" fill="#e7161b" stroke="#0a0605" stroke-width="4.8"/>
<rect x="2757.7" y="214.5" width="68.6" height="936.9" fill="#e7161b" stroke="#0a0605" stroke-width="4.8"/>
<rect x="2894.7" y="247" width="68.6" height="904.4" fill="#e7161b" stroke="#0a0605" stroke-width="4.8"/>
<rect x="3031.7" y="260.5" width="68.6" height="890.9" fill="#e7161b" stroke="#0a0605" stroke-width="4.8"/>
<rect x="3168.7" y="257.7" width="68.6" height="893.7" fill="#e7161b" stroke="#0a0605" stroke-width="4.8"/>
<rect x="3305.7" y="216.7" width="68.6" height="934.7" fill="#e7161b" stroke="#0a0605" stroke-width="4.8"/>
<rect x="3442.7" y="263.3" width="68.6" height="888.1" fill="#e7161b" stroke="#0a0605" stroke-width="4.8"/>
<rect x="3579.7" y="210.9" width="68.6" height="940.5" fill="#e7161b" stroke="#0a0605" stroke-width="4.8"/>
<rect x="2312.7" y="44.6" width="1369.9" height="1106.8" fill="none" stroke="#0a0605" stroke-width="5.2"/>
<path d="M2312.7,321.25H2334.3M2312.7,598H2334.3M2312.7,874.75H2334.3M2312.7,182.88H2324.2M2312.7,459.62H2324.2M2312.7,736.38H2324.2M2312.7,1013.12H2324.2M2380.7,1151.4V1126.7M2517.7,1151.4V1126.7M2654.7,1151.4V1126.7M2791.7,1151.4V1126.7M2928.7,1151.4V1126.7M3065.7,1151.4V1126.7M3202.7,1151.4V1126.7M3339.7,1151.4V1126.7M3476.7,1151.4V1126.7M3613.7,1151.4V1126.7M2449.6,1151.4V1138M2586.6,1151.4V1138M2723.6,1151.4V1138M2860.6,1151.4V1138M2997.6,1151.4V1138M3134.6,1151.4V1138M3271.6,1151.4V1138M3408.6,1151.4V1138M3545.6,1151.4V1138" fill="none" stroke="#0a0605" stroke-width="5.2"/>
<path d="M2305.6,246.5H3690.7" fill="none" stroke="#0a0605" stroke-width="5"/>
<rect x="3259.9" y="98.9" width="106.4" height="56.4" fill="#e7161b" stroke="#0a0605" stroke-width="5"/>
<text transform="translate(3394.17,148) scale(1.0774,1)" font-size="61">614</text>
<text transform="translate(3516.96,148) scale(1.1133,1)" font-size="61">cm</text>
<text transform="translate(3606.6,129.3) scale(1.3771,1)" font-size="40">−1</text>
<text transform="translate(2163.71,62.1) scale(1.0901,1)" font-size="61">8000</text>
<text transform="translate(2163.43,338.85) scale(1.0932,1)" font-size="61">6000</text>
<text transform="translate(2164.84,615.6) scale(1.0815,1)" font-size="61">4000</text>
<text transform="translate(2164.15,892.35) scale(1.0872,1)" font-size="61">2000</text>
<text transform="translate(2250.78,1169.1) scale(1.0507,1)" font-size="61">0</text>
<text transform="translate(2367.12,1218.6) scale(0.9791,1)" font-size="61">1</text>
<text transform="translate(2502.59,1218.6) scale(1.1515,1)" font-size="61">2</text>
<text transform="translate(2639.77,1218.6) scale(1.0789,1)" font-size="61">3</text>
<text transform="translate(2778.6,1218.6) scale(0.9836,1)" font-size="61">4</text>
<text transform="translate(2914.06,1218.6) scale(1.0617,1)" font-size="61">5</text>
<text transform="translate(3050.65,1218.6) scale(1.0469,1)" font-size="61">6</text>
<text transform="translate(3188.47,1218.6) scale(1.1007,1)" font-size="61">7</text>
<text transform="translate(3325.95,1218.6) scale(1.0656,1)" font-size="61">8</text>
<text transform="translate(3463.2,1218.6) scale(1.0904,1)" font-size="61">9</text>
<text transform="translate(3585.4,1218.6) scale(1.0868,1)" font-size="61">10</text>
<text transform="translate(2851.34,1300.4) scale(1.1200,1)" font-size="59" letter-spacing="2.75">Spectrum No.</text>
<text transform="translate(2358.95,123) scale(0.8796,1)" font-size="64">(</text>
<text transform="translate(2386.3,121.2) scale(1.1567,1)" font-size="55">b</text>
<text transform="translate(2421.2,123) scale(0.9375,1)" font-size="64">)</text>
</g>
</svg></body></html>
